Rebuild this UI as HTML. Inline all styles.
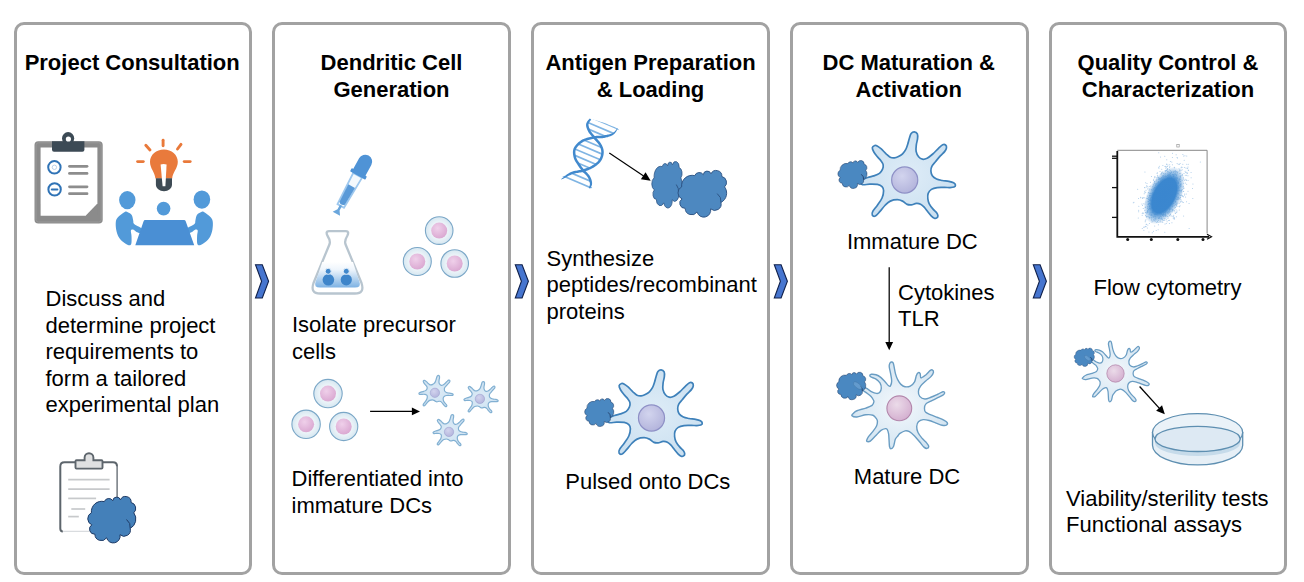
<!DOCTYPE html>
<html><head><meta charset="utf-8">
<style>
html,body{margin:0;padding:0;background:#fff;}
body{width:1304px;height:582px;position:relative;overflow:hidden;font-family:"Liberation Sans",sans-serif;color:#000;}
.box{position:absolute;top:22px;width:232.8px;height:546.8px;border:3px solid #a2a2a2;border-radius:10px;}
.t{position:absolute;font-size:22px;line-height:26.5px;white-space:nowrap;}
.b{font-weight:bold;text-align:center;}
.c{text-align:center;}
svg{position:absolute;left:0;top:0;overflow:visible;}
</style></head><body>
<div class="box" style="left:14px;width:231.8px"></div>
<div class="box" style="left:272.2px"></div>
<div class="box" style="left:531.1px"></div>
<div class="box" style="left:790.1px"></div>
<div class="box" style="left:1049.2px;width:231.7px"></div>
<svg width="1304" height="582" viewBox="0 0 1304 582"><defs>
<radialGradient id="gNucP" cx="0.4" cy="0.35" r="0.7"><stop offset="0" stop-color="#efd0ea"/><stop offset="1" stop-color="#d9a6d0"/></radialGradient>
<radialGradient id="gCell" cx="0.5" cy="0.5" r="0.5"><stop offset="0.55" stop-color="#eef5f9"/><stop offset="1" stop-color="#d6e7f1"/></radialGradient>
<radialGradient id="gNucL" cx="0.4" cy="0.35" r="0.7"><stop offset="0" stop-color="#d2d4ee"/><stop offset="1" stop-color="#b2b3db"/></radialGradient>
<radialGradient id="gNucM" cx="0.4" cy="0.35" r="0.7"><stop offset="0" stop-color="#ebdbe9"/><stop offset="1" stop-color="#d3aecf"/></radialGradient>
<radialGradient id="gDC" cx="0.5" cy="0.5" r="0.6"><stop offset="0" stop-color="#deecf7"/><stop offset="1" stop-color="#c9dff0"/></radialGradient>
<radialGradient id="gDCm" cx="0.5" cy="0.5" r="0.6"><stop offset="0" stop-color="#f3f8fc"/><stop offset="1" stop-color="#cfe2f0"/></radialGradient>
<linearGradient id="gFlask" x1="0" y1="0" x2="0" y2="1"><stop offset="0" stop-color="#ffffff"/><stop offset="0.3" stop-color="#eef5fc"/><stop offset="1" stop-color="#7db2e3"/></linearGradient>
<path id="immP" d="M-29.97,-34.45C-29.17,-34.74 -28.64,-34.68 -27.55,-34.11C-26.47,-33.54 -24.93,-32.34 -23.44,-31.03C-21.95,-29.71 -20.12,-27.59 -18.63,-26.22C-17.14,-24.84 -15.88,-23.46 -14.5,-22.77C-13.13,-22.09 -11.75,-21.97 -10.38,-22.09C-9,-22.2 -7.62,-22.77 -6.25,-23.46C-4.87,-24.15 -3.32,-25.07 -2.12,-26.22C-0.92,-27.36 0.11,-28.74 0.96,-30.34C1.82,-31.95 2.39,-33.89 3.02,-35.84C3.65,-37.79 4.17,-40.25 4.75,-42.02C5.32,-43.8 5.66,-45.46 6.46,-46.49C7.26,-47.52 8.53,-48.26 9.56,-48.21C10.59,-48.15 12.09,-47.29 12.64,-46.15C13.19,-45.01 13.03,-43.17 12.85,-41.34C12.68,-39.51 11.85,-37.29 11.62,-35.15C11.38,-33.02 11.04,-30.55 11.42,-28.55C11.8,-26.55 12.85,-24.46 13.9,-23.16C14.94,-21.87 16.26,-21.04 17.68,-20.8C19.1,-20.56 20.68,-20.88 22.41,-21.75C24.15,-22.61 26.18,-24.35 28.08,-26C29.97,-27.66 32.11,-30.14 33.77,-31.68C35.42,-33.22 36.83,-34.72 38.01,-35.27C39.19,-35.82 40.22,-35.51 40.85,-34.99C41.48,-34.47 41.95,-33.26 41.79,-32.15C41.64,-31.05 40.93,-29.71 39.9,-28.37C38.88,-27.03 37.14,-25.76 35.64,-24.11C34.15,-22.46 32.33,-20.18 30.91,-18.45C29.5,-16.72 27.93,-15.3 27.15,-13.72C26.36,-12.14 26.12,-10.57 26.2,-8.99C26.28,-7.41 26.66,-5.6 27.6,-4.26C28.55,-2.92 30.2,-1.75 31.86,-0.96C33.52,-0.18 35.49,0.06 37.54,0.46C39.58,0.85 42.25,1.01 44.14,1.4C46.03,1.8 47.77,2.19 48.87,2.82C49.98,3.45 50.69,4.48 50.77,5.19C50.85,5.9 50.29,6.69 49.35,7.08C48.4,7.47 46.65,7.5 45.09,7.55C43.53,7.61 42.07,7.42 39.97,7.42C37.87,7.43 34.7,7.25 32.5,7.57C30.29,7.89 28.22,8.4 26.72,9.36C25.22,10.33 24.08,11.78 23.47,13.34C22.87,14.91 22.94,17.01 23.12,18.76C23.3,20.51 23.71,22.13 24.55,23.82C25.39,25.5 26.95,27.43 28.16,28.87C29.36,30.32 30.94,31.34 31.78,32.48C32.62,33.62 33.15,34.82 33.21,35.73C33.27,36.63 32.74,37.47 32.14,37.9C31.54,38.32 30.51,38.56 29.61,38.25C28.71,37.95 27.8,37.17 26.72,36.08C25.64,35 24.32,33.25 23.12,31.75C21.91,30.24 20.7,28.33 19.49,27.06C18.29,25.8 17.21,24.78 15.89,24.18C14.57,23.57 13.13,23.32 11.57,23.44C10,23.56 8.03,24.74 6.51,24.89C4.99,25.05 3.89,25.02 2.45,24.39C1.01,23.76 -0.49,21.91 -2.12,21.13C-3.75,20.35 -5.29,19.71 -7.34,19.71C-9.39,19.71 -12.38,20.2 -14.42,21.13C-16.46,22.05 -17.84,23.52 -19.56,25.24C-21.28,26.95 -23.08,29.62 -24.71,31.42C-26.35,33.22 -28.06,35.45 -29.35,36.05C-30.64,36.65 -32.02,35.8 -32.45,35.02C-32.88,34.25 -32.78,33.05 -31.92,31.42C-31.07,29.79 -28.84,27.47 -27.29,25.24C-25.75,23 -23.69,20.43 -22.66,18.03C-21.63,15.62 -21.11,12.7 -21.11,10.82C-21.11,8.93 -21.63,7.77 -22.66,6.7C-23.69,5.64 -25.23,4.87 -27.29,4.44C-29.35,4.01 -32.52,4.09 -35.01,4.13C-37.5,4.16 -40.71,5.15 -42.22,4.65C-43.72,4.15 -44.9,2.34 -44.05,1.14C-43.19,-0.06 -39.27,-1.69 -37.08,-2.56C-34.89,-3.44 -32.87,-3.42 -30.9,-4.11C-28.92,-4.8 -26.68,-5.57 -25.22,-6.69C-23.76,-7.8 -22.75,-9.39 -22.14,-10.8C-21.52,-12.21 -21.28,-13.79 -21.53,-15.17C-21.79,-16.55 -22.65,-17.71 -23.65,-19.09C-24.66,-20.47 -26.33,-21.93 -27.55,-23.46C-28.78,-24.99 -30.19,-26.78 -31,-28.27C-31.8,-29.76 -32.54,-31.37 -32.37,-32.4C-32.19,-33.43 -30.77,-34.17 -29.97,-34.45Z"/>
<path id="matP" d="M-7.9,-46.3C-7.33,-46.39 -6.61,-46.14 -6.17,-45.36C-5.73,-44.57 -5.64,-43.43 -5.24,-41.6C-4.84,-39.77 -4.39,-36.55 -3.79,-34.39C-3.19,-32.23 -2.53,-30.37 -1.63,-28.63C-0.73,-26.88 0.39,-25.11 1.62,-23.93C2.84,-22.75 4.15,-21.83 5.71,-21.54C7.27,-21.26 9.38,-21.39 10.97,-22.21C12.56,-23.04 14.26,-24.79 15.26,-26.51C16.26,-28.22 16.4,-31.01 16.97,-32.51C17.55,-34.02 18.06,-35.17 18.7,-35.53C19.35,-35.89 20.36,-35.53 20.86,-34.67C21.36,-33.81 20.78,-30.59 21.71,-30.37C22.64,-30.16 24.94,-32.16 26.44,-33.38C27.94,-34.59 29.66,-36.81 30.73,-37.67C31.81,-38.53 32.31,-38.82 32.89,-38.53C33.46,-38.25 34.39,-37.1 34.18,-35.96C33.96,-34.81 32.89,-33.1 31.6,-31.66C30.31,-30.23 28.16,-28.93 26.44,-27.35C24.72,-25.78 22.5,-23.91 21.28,-22.2C20.06,-20.48 19.27,-18.77 19.13,-17.06C18.98,-15.34 19.34,-13.19 20.42,-11.9C21.49,-10.61 23.71,-9.45 25.58,-9.3C27.44,-9.16 29.45,-10.24 31.6,-11.03C33.75,-11.82 36.46,-13.11 38.47,-14.04C40.47,-14.97 42.48,-16.4 43.63,-16.61C44.77,-16.83 45.34,-15.9 45.34,-15.33C45.34,-14.75 44.92,-14.05 43.63,-13.19C42.34,-12.33 39.61,-11.17 37.6,-10.17C35.6,-9.16 33.46,-8.17 31.6,-7.17C29.74,-6.16 27.51,-5.38 26.44,-4.16C25.37,-2.94 25.15,-1.21 25.15,0.16C25.15,1.53 25.37,2.97 26.44,4.05C27.51,5.12 29.59,5.77 31.6,6.63C33.6,7.49 36.32,8.35 38.47,9.21C40.62,10.06 42.92,10.92 44.49,11.78C46.07,12.64 47.49,13.5 47.92,14.36C48.35,15.22 47.93,16.51 47.07,16.94C46.21,17.37 44.48,17.3 42.76,16.94C41.04,16.58 38.9,15.58 36.76,14.79C34.61,14 32.02,12.78 29.87,12.21C27.72,11.63 25.65,11.13 23.86,11.34C22.07,11.56 20.2,12.35 19.13,13.5C18.05,14.65 17.49,16.44 17.41,18.23C17.34,20.02 17.77,22.23 18.7,24.24C19.63,26.24 21.57,28.54 23,30.26C24.43,31.98 26.21,33.26 27.29,34.55C28.36,35.84 29.37,37.07 29.44,38C29.52,38.93 28.52,39.99 27.73,40.13C26.94,40.28 25.93,39.92 24.71,38.84C23.49,37.77 21.99,35.55 20.42,33.69C18.84,31.83 16.98,29.4 15.26,27.68C13.54,25.96 11.68,24.23 10.1,23.37C8.53,22.51 7.39,22.23 5.81,22.52C4.24,22.82 1.84,24.31 0.65,25.13C-0.53,25.96 -0.53,26.48 -1.31,27.47C-2.08,28.45 -3.24,29.26 -3.98,31.04C-4.73,32.83 -5.03,36.63 -5.78,38.19C-6.52,39.76 -7.79,40.43 -8.45,40.43C-9.12,40.43 -9.5,39.61 -9.79,38.19C-10.09,36.78 -10.08,34.02 -10.23,31.94C-10.38,29.86 -10.39,27.48 -10.69,25.69C-10.99,23.9 -11.51,22.11 -12.03,21.22C-12.55,20.32 -12.77,20.17 -13.81,20.32C-14.85,20.47 -16.64,20.92 -18.28,22.12C-19.92,23.31 -21.86,25.68 -23.65,27.47C-25.44,29.25 -27.59,31.85 -29,32.82C-30.42,33.79 -31.54,33.43 -32.14,33.28C-32.73,33.13 -32.8,32.76 -32.58,31.94C-32.35,31.12 -31.84,29.86 -30.8,28.37C-29.76,26.88 -27.67,24.78 -26.33,23C-24.99,21.21 -23.5,19.28 -22.75,17.64C-22.01,16.01 -21.85,14.36 -21.85,13.17C-21.85,11.98 -22.01,11.54 -22.75,10.49C-23.5,9.45 -24.54,7.59 -26.33,6.92C-28.11,6.25 -30.8,6.17 -33.47,6.46C-36.15,6.76 -40.09,8.55 -42.4,8.7C-44.71,8.85 -46.74,7.96 -47.33,7.36C-47.93,6.77 -46.8,5.94 -45.98,5.12C-45.16,4.31 -44.49,3.34 -42.4,2.45C-40.32,1.56 -36,0.66 -33.47,-0.23C-30.94,-1.12 -28.56,-1.86 -27.22,-2.91C-25.88,-3.95 -25.65,-5.58 -25.43,-6.48C-25.21,-7.37 -25.42,-7.37 -25.89,-8.27C-26.35,-9.18 -27.03,-10.68 -28.24,-11.91C-29.44,-13.15 -31.77,-14.66 -33.13,-15.67C-34.49,-16.67 -36.07,-17.14 -36.4,-17.95C-36.72,-18.77 -35.91,-20.35 -35.09,-20.56C-34.27,-20.78 -32.69,-19.9 -31.5,-19.26C-30.31,-18.62 -29.39,-17.44 -27.96,-16.71C-26.53,-15.99 -24.3,-15.07 -22.91,-14.92C-21.53,-14.76 -20.49,-14.94 -19.67,-15.78C-18.85,-16.62 -18.06,-18.36 -18,-19.96C-17.94,-21.56 -18.37,-23.82 -19.31,-25.38C-20.25,-26.94 -22.19,-28.39 -23.63,-29.35C-25.07,-30.31 -26.97,-30.6 -27.96,-31.14C-28.94,-31.68 -29.54,-32.11 -29.54,-32.59C-29.54,-33.07 -29,-33.87 -27.96,-34.03C-26.91,-34.18 -24.84,-34.04 -23.27,-33.52C-21.71,-33.01 -20.09,-32.11 -18.59,-30.93C-17.09,-29.75 -15.57,-27.86 -14.25,-26.46C-12.92,-25.05 -11.54,-23.15 -10.64,-22.49C-9.74,-21.83 -9.35,-21.71 -8.85,-22.49C-8.34,-23.27 -7.64,-25.19 -7.61,-27.17C-7.57,-29.16 -8.21,-31.98 -8.62,-34.39C-9.03,-36.79 -9.91,-39.86 -10.07,-41.6C-10.23,-43.35 -9.93,-44.07 -9.56,-44.85C-9.2,-45.63 -8.47,-46.22 -7.9,-46.3Z"/>
<path id="cloudP" d="M104.3,501.6A4.77,4.77 0 0 1 112.8,500.7A3.9,3.9 0 0 1 120.4,499.8A5.6,5.6 0 0 1 131.1,502.5A6.03,6.03 0 0 1 133.8,512.8A10.54,10.54 0 0 1 130.2,528.4A6.27,6.27 0 0 1 120,534.7A6.88,6.88 0 0 1 106.6,537.8A6.4,6.4 0 0 1 94.9,534.2A5.14,5.14 0 0 1 91.8,524.8A6.61,6.61 0 0 1 91.4,512.8A10.43,10.43 0 0 1 104.3,501.6Z"/>
</defs><g fill="#4675cf" stroke="#10204a" stroke-width="1.1"><polygon points="255.5,264.7 262.3,264.7 268.6,281.3 262.3,298 255.5,298 261.6,281.3"/><polygon points="515.3,264.7 522.1,264.7 528.4,281.3 522.1,298 515.3,298 521.4,281.3"/><polygon points="774.3,264.7 781.1,264.7 787.4,281.3 781.1,298 774.3,298 780.4,281.3"/><polygon points="1033.3,264.7 1040.1,264.7 1046.4,281.3 1040.1,298 1033.3,298 1039.4,281.3"/></g><circle cx="439.2" cy="230.6" r="13.8" fill="url(#gCell)" stroke="#7ba7c7" stroke-width="1.1"/><circle cx="439.2" cy="230.6" r="8" fill="url(#gNucP)"/><circle cx="417.3" cy="261.5" r="14" fill="url(#gCell)" stroke="#7ba7c7" stroke-width="1.1"/><circle cx="417.3" cy="261.5" r="8" fill="url(#gNucP)"/><circle cx="454.7" cy="263.5" r="13.8" fill="url(#gCell)" stroke="#7ba7c7" stroke-width="1.1"/><circle cx="454.7" cy="263.5" r="8" fill="url(#gNucP)"/><circle cx="328" cy="393.6" r="14.2" fill="url(#gCell)" stroke="#7ba7c7" stroke-width="1.1"/><circle cx="328" cy="393.6" r="8" fill="url(#gNucP)"/><circle cx="306.1" cy="424.3" r="14.2" fill="url(#gCell)" stroke="#7ba7c7" stroke-width="1.1"/><circle cx="306.1" cy="424.3" r="8" fill="url(#gNucP)"/><circle cx="343.7" cy="426.5" r="14.1" fill="url(#gCell)" stroke="#7ba7c7" stroke-width="1.1"/><circle cx="343.7" cy="426.5" r="8" fill="url(#gNucP)"/><line x1="370.1" y1="411.4" x2="412.4" y2="411.4" stroke="#000" stroke-width="1.25"/><polygon points="420,411.4 411.9,415.3 411.9,407.5" fill="#000"/><g transform="translate(434.9,392.8) scale(0.36)"><use href="#immP" fill="url(#gDC)" stroke="#82b0d2" stroke-width="3.3"/><circle r="13.05" fill="url(#gNucL)" stroke="#8e90c6" stroke-width="1.2"/></g><g transform="translate(479.9,398.9) scale(0.36)"><use href="#immP" fill="url(#gDC)" stroke="#82b0d2" stroke-width="3.3"/><circle r="13.05" fill="url(#gNucL)" stroke="#8e90c6" stroke-width="1.2"/></g><g transform="translate(449,431.9) scale(0.36)"><use href="#immP" fill="url(#gDC)" stroke="#82b0d2" stroke-width="3.3"/><circle r="13.05" fill="url(#gNucL)" stroke="#8e90c6" stroke-width="1.2"/></g><line x1="609.3" y1="153.1" x2="643.63" y2="175.99" stroke="#000" stroke-width="1.15"/><polygon points="650.7,180.7 640.88,179.2 645.54,172.21" fill="#000"/><g transform="translate(596.32,-336.04) scale(0.6320,1.0021)"><use href="#cloudP" fill="#4d88c0" stroke="#2a5080" stroke-width="0.9" vector-effect="non-scaling-stroke"/><path d="M126.5,519.5 Q131,523 130.2,528.4" fill="none" stroke="#2a5080" stroke-width="0.9" vector-effect="non-scaling-stroke"/></g><g transform="translate(589.16,-328.09) scale(1.0120,1.0042)"><use href="#cloudP" fill="#4d88c0" stroke="#2a5080" stroke-width="0.9" vector-effect="non-scaling-stroke"/><path d="M126.5,519.5 Q131,523 130.2,528.4" fill="none" stroke="#2a5080" stroke-width="0.9" vector-effect="non-scaling-stroke"/></g><g transform="translate(651.5,418) scale(1.0)"><use href="#immP" fill="url(#gDC)" stroke="#3e81ba" stroke-width="1.7"/><circle r="13.05" fill="url(#gNucL)" stroke="#8e90c6" stroke-width="1.2"/></g><g transform="translate(531.48,99.56) scale(0.6060,0.6021)"><use href="#cloudP" fill="#4a88c1" stroke="#223f6a" stroke-width="0.9" vector-effect="non-scaling-stroke"/><path d="M126.5,519.5 Q131,523 130.2,528.4" fill="none" stroke="#223f6a" stroke-width="0.9" vector-effect="non-scaling-stroke"/></g><g transform="translate(904.7,180) scale(1.0)"><use href="#immP" fill="url(#gDC)" stroke="#3e81ba" stroke-width="1.7"/><circle r="13.05" fill="url(#gNucL)" stroke="#8e90c6" stroke-width="1.2"/></g><g transform="translate(784.68,-138.44) scale(0.6060,0.6021)"><use href="#cloudP" fill="#4a88c1" stroke="#223f6a" stroke-width="0.9" vector-effect="non-scaling-stroke"/><path d="M126.5,519.5 Q131,523 130.2,528.4" fill="none" stroke="#223f6a" stroke-width="0.9" vector-effect="non-scaling-stroke"/></g><line x1="889.2" y1="267.2" x2="889.2" y2="342.6" stroke="#000" stroke-width="1.25"/><polygon points="889.2,350.2 885.3,342.1 893.1,342.1" fill="#000"/><g transform="translate(899.3,408.3) scale(1.0)"><use href="#matP" fill="url(#gDCm)" stroke="#6a9dc3" stroke-width="1.4"/><circle r="12.4" fill="url(#gNucM)" stroke="#b286ab" stroke-width="1.1"/></g><g transform="translate(783.2,78.48) scale(0.6080,0.5916)"><use href="#cloudP" fill="#4a88c1" stroke="#223f6a" stroke-width="0.9" vector-effect="non-scaling-stroke"/><path d="M126.5,519.5 Q131,523 130.2,528.4" fill="none" stroke="#223f6a" stroke-width="0.9" vector-effect="non-scaling-stroke"/></g><ellipse cx="857.6" cy="385.6" rx="5" ry="2.3" transform="rotate(38 857.6 385.6)" fill="#78abd8" fill-opacity="0.55" stroke="#3d6f9f" stroke-width="0.6" stroke-opacity="0.6"/><g transform="translate(1115.5,373.5) scale(0.7)"><use href="#matP" fill="url(#gDCm)" stroke="#6a9dc3" stroke-width="1.8"/><circle r="12.4" fill="url(#gNucM)" stroke="#b286ab" stroke-width="1.1"/></g><g transform="translate(1037.09,151.59) scale(0.4220,0.3958)"><use href="#cloudP" fill="#4a88c1" stroke="#223f6a" stroke-width="0.9" vector-effect="non-scaling-stroke"/><path d="M126.5,519.5 Q131,523 130.2,528.4" fill="none" stroke="#223f6a" stroke-width="0.9" vector-effect="non-scaling-stroke"/></g><ellipse cx="1087.4" cy="358.1" rx="3.6" ry="1.7" transform="rotate(40 1087.4 358.1)" fill="#78abd8" fill-opacity="0.55" stroke="#3d6f9f" stroke-width="0.5" stroke-opacity="0.6"/><line x1="1139.6" y1="386.5" x2="1159.43" y2="408.37" stroke="#000" stroke-width="1.3"/><polygon points="1164.8,414.3 1156.13,410.69 1162.05,405.32" fill="#000"/><rect x="34.5" y="141.3" width="68.2" height="82.2" rx="3.8" fill="#8b8b8b"/><rect x="36" y="142.8" width="65.2" height="79.2" rx="2.5" fill="none" stroke="#999" stroke-width="1"/><path d="M40.6,147.4 L97.4,147.4 L97.4,203.8 L85.8,215.8 L40.6,215.8 Z" fill="#fff"/><path d="M97.4,203.8 L85.8,215.8 L97.4,215.8 Z" fill="#8b8b8b"/><path d="M52,141.2 L84.4,141.2 L84.4,149.7 Q84.4,151.7 82.4,151.7 L54,151.7 Q52,151.7 52,149.7 Z" fill="#3c4a55"/><circle cx="68.1" cy="138.2" r="6.1" fill="#3c4a55"/><circle cx="68.4" cy="139" r="2.6" fill="#fff"/><g fill="none" stroke="#2f73b6" stroke-width="2"><circle cx="54.4" cy="167.3" r="6.2"/><circle cx="54.6" cy="189.4" r="6.2"/></g><line x1="51.8" y1="189.4" x2="57.4" y2="189.4" stroke="#2f73b6" stroke-width="2" stroke-linecap="round"/><circle cx="54.4" cy="167.3" r="2.2" fill="none" stroke="#a9c6e4" stroke-width="0.8"/><g stroke="#8d8d8d" stroke-width="2.8" stroke-linecap="round"><line x1="69.5" y1="166.3" x2="87" y2="166.3"/><line x1="69.5" y1="173.4" x2="87" y2="173.4"/><line x1="69.5" y1="186.8" x2="87" y2="186.8"/><line x1="69.5" y1="193.7" x2="87" y2="193.7"/></g><g stroke="#e9793a" stroke-width="2.9" stroke-linecap="round"><line x1="163.1" y1="140.2" x2="163.1" y2="145.8"/><line x1="145.8" y1="145.3" x2="150" y2="150"/><line x1="181" y1="144.3" x2="177.5" y2="149"/><line x1="137.6" y1="161.6" x2="143.3" y2="161.6"/><line x1="184.2" y1="161.6" x2="190.2" y2="161.6"/></g><path d="M155.4,178.5 C155,172.5 150,168.5 150,161.8 C150,154.6 156.3,149.4 163.9,149.4 C171.5,149.4 177.8,154.6 177.8,161.8 C177.8,168.5 172.6,172.5 172.2,178.5 Z" fill="#e97a3c"/><path d="M155.9,178.2 L172,178.2 L172,184.6 C172,188.5 168.5,191.3 164,191.3 C159.5,191.3 155.9,188.5 155.9,184.6 Z" fill="#3e4b55"/><path d="M160.6,164.6 Q163.5,163.6 166.6,164.6 L165.4,186.2 L162.6,186.2 Z" fill="#fff"/><g fill="#529ad9"><path d="M200.8,212.3C199.63,212.8 197.8,213.63 196.9,215C196,216.37 195.72,219.13 195.4,220.5C195.08,221.87 195.47,222.42 195,223.2C194.53,223.98 193.97,224.3 192.6,225.2C191.23,226.1 187.6,227.33 186.8,228.6C186,229.87 186.92,232.23 187.8,232.8C188.68,233.37 190.83,232.53 192.1,232C193.37,231.47 194.47,229.85 195.4,229.6C196.33,229.35 197.42,229.43 197.7,230.5C197.98,231.57 197.17,233.8 197.1,236C197.03,238.2 196.82,242.17 197.3,243.7C197.78,245.23 198.65,245.47 200,245.2C201.35,244.93 203.72,243.52 205.4,242.1C207.08,240.68 208.93,238.75 210.1,236.7C211.27,234.65 211.95,232.25 212.4,229.8C212.85,227.35 213.05,224.07 212.8,222C212.55,219.93 212.38,219.07 210.9,217.4C209.42,215.73 205.58,212.85 203.9,212C202.22,211.15 201.97,211.8 200.8,212.3Z"/><path d="M124.7,212C123.02,212.85 119.18,215.73 117.7,217.4C116.22,219.07 116.05,219.93 115.8,222C115.55,224.07 115.75,227.35 116.2,229.8C116.65,232.25 117.33,234.65 118.5,236.7C119.67,238.75 121.52,240.68 123.2,242.1C124.88,243.52 127.25,244.93 128.6,245.2C129.95,245.47 130.82,245.23 131.3,243.7C131.78,242.17 131.57,238.2 131.5,236C131.43,233.8 130.62,231.57 130.9,230.5C131.18,229.43 132.27,229.35 133.2,229.6C134.13,229.85 135.23,231.47 136.5,232C137.77,232.53 139.92,233.37 140.8,232.8C141.68,232.23 142.6,229.87 141.8,228.6C141,227.33 137.37,226.1 136,225.2C134.63,224.3 134.07,223.98 133.6,223.2C133.13,222.42 133.52,221.87 133.2,220.5C132.88,219.13 132.6,216.37 131.7,215C130.8,213.63 128.97,212.8 127.8,212.3C126.63,211.8 126.38,211.15 124.7,212Z"/><ellipse cx="127.3" cy="200.1" rx="8.2" ry="9.1"/><ellipse cx="201.9" cy="199.6" rx="8.3" ry="9.2"/><circle cx="163.6" cy="208.6" r="6.8"/><path d="M145,219.9 L184,219.9 Q185.3,219.9 185.7,221.2 L194.2,245.2 L135.3,245.2 L143.6,221.2 Q144,219.9 145,219.9 Z" fill="#4a8fd4"/></g><rect x="60.3" y="462.2" width="56.6" height="69.3" rx="4.2" fill="#fff"/><line x1="62" y1="531.4" x2="112" y2="531.4" stroke="#d9dcdf" stroke-width="1.2"/><path d="M62.8,531.5 Q60.3,531.5 60.3,528.5 L60.3,466.4 Q60.3,462.2 64.5,462.2 L113,462.2 Q117,462.2 117,466.2" fill="none" stroke="#5d656c" stroke-width="2"/><line x1="117.1" y1="466" x2="117.1" y2="500" stroke="#5d656c" stroke-width="1.3"/><path d="M76.5,460.2 L84.6,460.2 L84.6,457.6 A4.4,4.4 0 0 1 93.4,457.6 L93.4,460.2 L101.5,460.2 Q102.5,460.2 102.5,461.2 L102.5,467.6 Q102.5,468.6 101.5,468.6 L76.5,468.6 Q75.5,468.6 75.5,467.6 L75.5,461.2 Q75.5,460.2 76.5,460.2 Z" fill="#dfe0e1" stroke="#5d656c" stroke-width="1.9"/><g stroke="#c7c9cb" stroke-width="1.7"><line x1="68.2" y1="479.7" x2="109.6" y2="479.7"/><line x1="68.2" y1="489.1" x2="109.6" y2="489.1"/><line x1="68.2" y1="498.4" x2="96.1" y2="498.4"/><line x1="71.3" y1="509" x2="85.2" y2="509"/><line x1="68.2" y1="516.6" x2="78.8" y2="516.6"/></g><g transform="translate(0,0) scale(1.0000,1.0000)"><use href="#cloudP" fill="#4480b9" stroke="#1f3b66" stroke-width="1" vector-effect="non-scaling-stroke"/><path d="M126.5,519.5 Q131,523 130.2,528.4" fill="none" stroke="#1f3b66" stroke-width="1" vector-effect="non-scaling-stroke"/></g><g transform="translate(368.6,155.6) rotate(29)"><path d="M-5,22.5 L5,22.5 L3.7,57.5 L-3.7,57.5 Z" fill="#f4f9fd" stroke="#9ec8ee" stroke-width="1.8"/><path d="M-3.8,35 L3.8,35 L3.1,54.5 Q0,57.5 -3.1,54.5 Z" fill="#5a9ad8"/><path d="M-1.2,57 L1.2,57 L1.2,62 L4.2,66.5 L-4.2,66.5 L-1.2,62 Z" fill="#6aa6dc"/><path d="M-7,20 L-7,7 A7,7 0 0 1 7,7 L7,20 Z" fill="#4f93d6"/><rect x="-8.7" y="19" width="17.4" height="3.8" rx="1" fill="#4f93d6"/></g><path d="M313.5,283 L329.6,244 Q330.6,240.5 327.6,236 Q325.2,231.2 328.8,231.2 L346,231.2 Q349.6,231.2 347.2,236 Q344.4,240.5 345.4,244 L361.5,283 Q365,293.5 355,293.5 L320,293.5 Q310,293.5 313.5,283 Z" fill="#fff" stroke="#b8c5cf" stroke-width="2.3"/><path d="M322.3,262 L353,262 L359.5,282 Q361.5,287.5 355,287.5 L320,287.5 Q313.5,287.5 315.5,282 Z" fill="url(#gFlask)"/><g fill="#3e85ca"><circle cx="328.4" cy="279.8" r="5.8"/><circle cx="346.3" cy="279.8" r="5.6"/></g><g fill="#4188cc" stroke="#e3effa" stroke-width="1"><circle cx="328.2" cy="271.3" r="3"/><circle cx="346.3" cy="271.3" r="3"/></g><clipPath id="cpTop"><path d="M590.5,118.9C585.45,118.22 587.48,122.33 587.3,124.4C587.12,126.47 588.25,129.13 589.4,131.3C590.55,133.47 593.4,136.38 594.2,137.4C595,138.42 592.72,137.5 594.2,137.4C595.68,137.3 600,137.37 603.1,136.8C606.2,136.23 610.38,135.38 612.8,134C615.22,132.62 621.32,131.02 617.6,128.5C613.88,125.98 595.55,119.58 590.5,118.9Z"/></clipPath><clipPath id="cpMid"><path d="M594.2,137.4C595.23,138.67 599.02,142.47 600.4,145C601.78,147.53 602.62,149.97 602.5,152.6C602.38,155.23 601.43,158.4 599.7,160.8C597.97,163.2 594.85,165.38 592.1,167C589.35,168.62 584.68,169.92 583.2,170.5C581.72,171.08 583.88,171.42 583.2,170.5C582.52,169.58 580.48,167.18 579.1,165C577.72,162.82 575.6,160.15 574.9,157.4C574.2,154.65 573.63,151.25 574.9,148.5C576.17,145.75 579.28,142.75 582.5,140.9C585.72,139.05 592.25,137.98 594.2,137.4C596.15,136.82 593.17,136.13 594.2,137.4Z"/></clipPath><clipPath id="cpBot"><path d="M583.2,170.5C581.25,170.95 575.17,171.72 571.5,173.2C567.83,174.68 558.22,176.88 561.2,179.4C564.18,181.92 584.43,187.62 589.4,188.3C594.37,188.98 591.12,185.45 591,183.5C590.88,181.55 590,178.77 588.7,176.6C587.4,174.43 584.12,171.52 583.2,170.5C582.28,169.48 585.15,170.05 583.2,170.5Z"/></clipPath><g clip-path="url(#cpTop)" stroke="#7fb4e3" stroke-width="1.7"><line x1="550" y1="-60" x2="630" y2="-26"/><line x1="550" y1="-53.6" x2="630" y2="-19.6"/><line x1="550" y1="-47.2" x2="630" y2="-13.2"/><line x1="550" y1="-40.8" x2="630" y2="-6.8"/><line x1="550" y1="-34.4" x2="630" y2="-0.4"/><line x1="550" y1="-28" x2="630" y2="6"/><line x1="550" y1="-21.6" x2="630" y2="12.4"/><line x1="550" y1="-15.2" x2="630" y2="18.8"/><line x1="550" y1="-8.8" x2="630" y2="25.2"/><line x1="550" y1="-2.4" x2="630" y2="31.6"/><line x1="550" y1="4" x2="630" y2="38"/><line x1="550" y1="10.4" x2="630" y2="44.4"/><line x1="550" y1="16.8" x2="630" y2="50.8"/><line x1="550" y1="23.2" x2="630" y2="57.2"/><line x1="550" y1="29.6" x2="630" y2="63.6"/><line x1="550" y1="36" x2="630" y2="70"/><line x1="550" y1="42.4" x2="630" y2="76.4"/><line x1="550" y1="48.8" x2="630" y2="82.8"/><line x1="550" y1="55.2" x2="630" y2="89.2"/><line x1="550" y1="61.6" x2="630" y2="95.6"/><line x1="550" y1="68" x2="630" y2="102"/><line x1="550" y1="74.4" x2="630" y2="108.4"/><line x1="550" y1="80.8" x2="630" y2="114.8"/><line x1="550" y1="87.2" x2="630" y2="121.2"/><line x1="550" y1="93.6" x2="630" y2="127.6"/><line x1="550" y1="100" x2="630" y2="134"/><line x1="550" y1="106.4" x2="630" y2="140.4"/><line x1="550" y1="112.8" x2="630" y2="146.8"/><line x1="550" y1="119.2" x2="630" y2="153.2"/><line x1="550" y1="125.6" x2="630" y2="159.6"/><line x1="550" y1="132" x2="630" y2="166"/><line x1="550" y1="138.4" x2="630" y2="172.4"/><line x1="550" y1="144.8" x2="630" y2="178.8"/><line x1="550" y1="151.2" x2="630" y2="185.2"/><line x1="550" y1="157.6" x2="630" y2="191.6"/><line x1="550" y1="164" x2="630" y2="198"/><line x1="550" y1="170.4" x2="630" y2="204.4"/><line x1="550" y1="176.8" x2="630" y2="210.8"/><line x1="550" y1="183.2" x2="630" y2="217.2"/><line x1="550" y1="189.6" x2="630" y2="223.6"/><line x1="550" y1="196" x2="630" y2="230"/><line x1="550" y1="202.4" x2="630" y2="236.4"/><line x1="550" y1="208.8" x2="630" y2="242.8"/><line x1="550" y1="215.2" x2="630" y2="249.2"/><line x1="550" y1="221.6" x2="630" y2="255.6"/><line x1="550" y1="228" x2="630" y2="262"/><line x1="550" y1="234.4" x2="630" y2="268.4"/><line x1="550" y1="240.8" x2="630" y2="274.8"/><line x1="550" y1="247.2" x2="630" y2="281.2"/><line x1="550" y1="253.6" x2="630" y2="287.6"/></g><g clip-path="url(#cpMid)" stroke="#7fb4e3" stroke-width="1.7"><line x1="550" y1="-60" x2="630" y2="-26"/><line x1="550" y1="-53.6" x2="630" y2="-19.6"/><line x1="550" y1="-47.2" x2="630" y2="-13.2"/><line x1="550" y1="-40.8" x2="630" y2="-6.8"/><line x1="550" y1="-34.4" x2="630" y2="-0.4"/><line x1="550" y1="-28" x2="630" y2="6"/><line x1="550" y1="-21.6" x2="630" y2="12.4"/><line x1="550" y1="-15.2" x2="630" y2="18.8"/><line x1="550" y1="-8.8" x2="630" y2="25.2"/><line x1="550" y1="-2.4" x2="630" y2="31.6"/><line x1="550" y1="4" x2="630" y2="38"/><line x1="550" y1="10.4" x2="630" y2="44.4"/><line x1="550" y1="16.8" x2="630" y2="50.8"/><line x1="550" y1="23.2" x2="630" y2="57.2"/><line x1="550" y1="29.6" x2="630" y2="63.6"/><line x1="550" y1="36" x2="630" y2="70"/><line x1="550" y1="42.4" x2="630" y2="76.4"/><line x1="550" y1="48.8" x2="630" y2="82.8"/><line x1="550" y1="55.2" x2="630" y2="89.2"/><line x1="550" y1="61.6" x2="630" y2="95.6"/><line x1="550" y1="68" x2="630" y2="102"/><line x1="550" y1="74.4" x2="630" y2="108.4"/><line x1="550" y1="80.8" x2="630" y2="114.8"/><line x1="550" y1="87.2" x2="630" y2="121.2"/><line x1="550" y1="93.6" x2="630" y2="127.6"/><line x1="550" y1="100" x2="630" y2="134"/><line x1="550" y1="106.4" x2="630" y2="140.4"/><line x1="550" y1="112.8" x2="630" y2="146.8"/><line x1="550" y1="119.2" x2="630" y2="153.2"/><line x1="550" y1="125.6" x2="630" y2="159.6"/><line x1="550" y1="132" x2="630" y2="166"/><line x1="550" y1="138.4" x2="630" y2="172.4"/><line x1="550" y1="144.8" x2="630" y2="178.8"/><line x1="550" y1="151.2" x2="630" y2="185.2"/><line x1="550" y1="157.6" x2="630" y2="191.6"/><line x1="550" y1="164" x2="630" y2="198"/><line x1="550" y1="170.4" x2="630" y2="204.4"/><line x1="550" y1="176.8" x2="630" y2="210.8"/><line x1="550" y1="183.2" x2="630" y2="217.2"/><line x1="550" y1="189.6" x2="630" y2="223.6"/><line x1="550" y1="196" x2="630" y2="230"/><line x1="550" y1="202.4" x2="630" y2="236.4"/><line x1="550" y1="208.8" x2="630" y2="242.8"/><line x1="550" y1="215.2" x2="630" y2="249.2"/><line x1="550" y1="221.6" x2="630" y2="255.6"/><line x1="550" y1="228" x2="630" y2="262"/><line x1="550" y1="234.4" x2="630" y2="268.4"/><line x1="550" y1="240.8" x2="630" y2="274.8"/><line x1="550" y1="247.2" x2="630" y2="281.2"/><line x1="550" y1="253.6" x2="630" y2="287.6"/></g><g clip-path="url(#cpBot)" stroke="#7fb4e3" stroke-width="1.7"><line x1="550" y1="-60" x2="630" y2="-26"/><line x1="550" y1="-53.6" x2="630" y2="-19.6"/><line x1="550" y1="-47.2" x2="630" y2="-13.2"/><line x1="550" y1="-40.8" x2="630" y2="-6.8"/><line x1="550" y1="-34.4" x2="630" y2="-0.4"/><line x1="550" y1="-28" x2="630" y2="6"/><line x1="550" y1="-21.6" x2="630" y2="12.4"/><line x1="550" y1="-15.2" x2="630" y2="18.8"/><line x1="550" y1="-8.8" x2="630" y2="25.2"/><line x1="550" y1="-2.4" x2="630" y2="31.6"/><line x1="550" y1="4" x2="630" y2="38"/><line x1="550" y1="10.4" x2="630" y2="44.4"/><line x1="550" y1="16.8" x2="630" y2="50.8"/><line x1="550" y1="23.2" x2="630" y2="57.2"/><line x1="550" y1="29.6" x2="630" y2="63.6"/><line x1="550" y1="36" x2="630" y2="70"/><line x1="550" y1="42.4" x2="630" y2="76.4"/><line x1="550" y1="48.8" x2="630" y2="82.8"/><line x1="550" y1="55.2" x2="630" y2="89.2"/><line x1="550" y1="61.6" x2="630" y2="95.6"/><line x1="550" y1="68" x2="630" y2="102"/><line x1="550" y1="74.4" x2="630" y2="108.4"/><line x1="550" y1="80.8" x2="630" y2="114.8"/><line x1="550" y1="87.2" x2="630" y2="121.2"/><line x1="550" y1="93.6" x2="630" y2="127.6"/><line x1="550" y1="100" x2="630" y2="134"/><line x1="550" y1="106.4" x2="630" y2="140.4"/><line x1="550" y1="112.8" x2="630" y2="146.8"/><line x1="550" y1="119.2" x2="630" y2="153.2"/><line x1="550" y1="125.6" x2="630" y2="159.6"/><line x1="550" y1="132" x2="630" y2="166"/><line x1="550" y1="138.4" x2="630" y2="172.4"/><line x1="550" y1="144.8" x2="630" y2="178.8"/><line x1="550" y1="151.2" x2="630" y2="185.2"/><line x1="550" y1="157.6" x2="630" y2="191.6"/><line x1="550" y1="164" x2="630" y2="198"/><line x1="550" y1="170.4" x2="630" y2="204.4"/><line x1="550" y1="176.8" x2="630" y2="210.8"/><line x1="550" y1="183.2" x2="630" y2="217.2"/><line x1="550" y1="189.6" x2="630" y2="223.6"/><line x1="550" y1="196" x2="630" y2="230"/><line x1="550" y1="202.4" x2="630" y2="236.4"/><line x1="550" y1="208.8" x2="630" y2="242.8"/><line x1="550" y1="215.2" x2="630" y2="249.2"/><line x1="550" y1="221.6" x2="630" y2="255.6"/><line x1="550" y1="228" x2="630" y2="262"/><line x1="550" y1="234.4" x2="630" y2="268.4"/><line x1="550" y1="240.8" x2="630" y2="274.8"/><line x1="550" y1="247.2" x2="630" y2="281.2"/><line x1="550" y1="253.6" x2="630" y2="287.6"/></g><g fill="#4189cd"><path d="M589.77,118.42 L589.58,118.63 L589.34,118.91 L589.03,119.25 L588.67,119.66 L588.29,120.11 L587.89,120.6 L587.5,121.13 L587.12,121.7 L586.77,122.29 L586.47,122.92 L586.23,123.59 L586.09,124.27 L586.04,124.94 L586.07,125.6 L586.16,126.26 L586.29,126.91 L586.46,127.56 L586.67,128.21 L586.9,128.85 L587.15,129.49 L587.42,130.11 L587.71,130.72 L588,131.31 L588.3,131.9 L588.63,132.47 L588.99,133.04 L589.37,133.58 L589.76,134.11 L590.17,134.62 L590.59,135.12 L591.02,135.61 L591.46,136.11 L591.9,136.61 L592.34,137.12 L592.78,137.64 L593.24,138.19 L593.73,138.79 L594.26,139.41 L594.82,140.03 L595.39,140.66 L595.96,141.3 L596.53,141.93 L597.09,142.57 L597.62,143.2 L598.11,143.83 L598.57,144.44 L598.97,145.03 L599.31,145.61 L599.62,146.2 L599.91,146.79 L600.18,147.38 L600.42,147.96 L600.63,148.54 L600.81,149.11 L600.96,149.68 L601.09,150.25 L601.18,150.82 L601.23,151.39 L601.26,151.96 L601.25,152.55 L601.21,153.15 L601.13,153.78 L601.03,154.42 L600.89,155.08 L600.72,155.74 L600.52,156.4 L600.29,157.05 L600.02,157.69 L599.73,158.32 L599.41,158.93 L599.06,159.51 L598.69,160.07 L598.27,160.6 L597.81,161.13 L597.29,161.66 L596.73,162.19 L596.14,162.7 L595.51,163.21 L594.86,163.7 L594.19,164.18 L593.51,164.65 L592.83,165.09 L592.14,165.52 L591.47,165.92 L590.82,166.29 L590.16,166.63 L589.5,166.95 L588.84,167.25 L588.16,167.53 L587.47,167.8 L586.76,168.06 L586.03,168.31 L585.27,168.55 L584.49,168.8 L583.68,169.05 L582.85,169.3 L582.01,169.53 L581.13,169.73 L580.2,169.92 L579.24,170.1 L578.24,170.27 L577.22,170.45 L576.18,170.64 L575.14,170.85 L574.1,171.08 L573.06,171.35 L572.03,171.67 L571.03,172.04 L570.03,172.48 L569.04,173.06 L568.05,173.7 L567.06,174.37 L566.1,175.07 L565.17,175.78 L564.29,176.47 L563.47,177.14 L562.72,177.77 L562.07,178.33 L561.52,178.82 L561.1,179.24 L561.3,179.56 L561.87,179.36 L562.54,179.04 L563.31,178.64 L564.17,178.19 L565.09,177.69 L566.07,177.16 L567.08,176.63 L568.1,176.1 L569.13,175.6 L570.13,175.14 L571.09,174.74 L571.97,174.36 L572.84,174.04 L573.74,173.76 L574.69,173.51 L575.66,173.29 L576.65,173.1 L577.66,172.91 L578.67,172.74 L579.68,172.56 L580.68,172.38 L581.66,172.18 L582.62,171.95 L583.55,171.7 L584.41,171.44 L585.23,171.19 L586.03,170.93 L586.82,170.68 L587.59,170.41 L588.35,170.14 L589.09,169.85 L589.83,169.54 L590.56,169.22 L591.29,168.87 L592.01,168.49 L592.73,168.08 L593.45,167.65 L594.17,167.2 L594.9,166.73 L595.62,166.23 L596.34,165.72 L597.05,165.18 L597.74,164.62 L598.41,164.04 L599.04,163.45 L599.64,162.83 L600.2,162.19 L600.71,161.53 L601.17,160.86 L601.59,160.15 L601.97,159.43 L602.32,158.69 L602.62,157.94 L602.89,157.18 L603.13,156.41 L603.32,155.65 L603.49,154.89 L603.61,154.13 L603.7,153.39 L603.75,152.65 L603.76,151.93 L603.73,151.21 L603.66,150.5 L603.54,149.79 L603.4,149.1 L603.21,148.41 L603,147.73 L602.75,147.06 L602.48,146.39 L602.17,145.72 L601.85,145.06 L601.49,144.39 L601.08,143.69 L600.61,142.99 L600.1,142.3 L599.55,141.62 L598.99,140.94 L598.41,140.28 L597.82,139.62 L597.24,138.98 L596.68,138.36 L596.14,137.75 L595.63,137.17 L595.16,136.61 L594.7,136.04 L594.24,135.49 L593.78,134.97 L593.34,134.46 L592.91,133.97 L592.5,133.5 L592.1,133.03 L591.73,132.57 L591.39,132.11 L591.07,131.65 L590.77,131.19 L590.5,130.7 L590.23,130.18 L589.96,129.64 L589.7,129.08 L589.46,128.53 L589.23,127.97 L589.03,127.41 L588.86,126.87 L588.72,126.34 L588.62,125.84 L588.56,125.36 L588.52,124.91 L588.51,124.53 L588.55,124.16 L588.66,123.76 L588.84,123.3 L589.07,122.82 L589.34,122.33 L589.64,121.84 L589.96,121.35 L590.27,120.89 L590.57,120.46 L590.85,120.06 L591.08,119.69 L591.23,119.38Z"/><path d="M617.5,128.42 L617.21,128.65 L616.9,128.97 L616.57,129.36 L616.2,129.8 L615.8,130.27 L615.38,130.76 L614.92,131.25 L614.45,131.73 L613.95,132.19 L613.44,132.6 L612.91,132.96 L612.36,133.25 L611.76,133.51 L611.08,133.75 L610.35,133.98 L609.57,134.19 L608.75,134.38 L607.9,134.56 L607.04,134.72 L606.18,134.91 L605.33,135.09 L604.48,135.27 L603.66,135.42 L602.89,135.57 L602.18,135.68 L601.5,135.75 L600.83,135.79 L600.16,135.81 L599.48,135.81 L598.78,135.81 L598.06,135.81 L597.31,135.82 L596.53,135.85 L595.71,135.91 L594.85,136.02 L593.97,136.17 L593.06,136.35 L592.11,136.54 L591.11,136.75 L590.08,136.98 L589.02,137.23 L587.95,137.5 L586.87,137.81 L585.81,138.13 L584.77,138.5 L583.76,138.89 L582.79,139.33 L581.88,139.81 L581.03,140.33 L580.19,140.89 L579.37,141.49 L578.58,142.12 L577.82,142.78 L577.09,143.47 L576.4,144.19 L575.76,144.92 L575.17,145.66 L574.63,146.43 L574.16,147.2 L573.76,147.98 L573.44,148.79 L573.2,149.63 L573.03,150.47 L572.94,151.32 L572.9,152.17 L572.91,153.01 L572.97,153.84 L573.07,154.65 L573.2,155.45 L573.34,156.23 L573.51,156.98 L573.69,157.73 L573.92,158.48 L574.2,159.24 L574.53,159.98 L574.89,160.69 L575.27,161.39 L575.68,162.07 L576.09,162.72 L576.51,163.36 L576.92,163.97 L577.32,164.57 L577.7,165.13 L578.05,165.68 L578.39,166.21 L578.74,166.73 L579.07,167.22 L579.41,167.69 L579.74,168.15 L580.07,168.6 L580.41,169.04 L580.75,169.48 L581.11,169.92 L581.47,170.36 L581.84,170.82 L582.25,171.31 L582.69,171.82 L583.17,172.33 L583.66,172.84 L584.17,173.35 L584.68,173.85 L585.18,174.35 L585.67,174.84 L586.13,175.33 L586.57,175.82 L586.97,176.3 L587.32,176.78 L587.63,177.25 L587.92,177.75 L588.19,178.28 L588.45,178.83 L588.69,179.39 L588.91,179.96 L589.11,180.52 L589.28,181.08 L589.44,181.63 L589.6,182.15 L589.73,182.65 L589.83,183.13 L589.9,183.55 L589.93,183.92 L589.92,184.31 L589.87,184.71 L589.78,185.13 L589.67,185.55 L589.53,185.97 L589.39,186.38 L589.24,186.77 L589.1,187.14 L588.97,187.48 L588.87,187.8 L588.82,188.07 L589.98,188.53 L590.11,188.35 L590.27,188.12 L590.46,187.83 L590.68,187.5 L590.91,187.11 L591.15,186.69 L591.39,186.23 L591.61,185.74 L591.8,185.21 L591.96,184.65 L592.06,184.05 L592.1,183.45 L592.08,182.87 L592.03,182.27 L591.95,181.66 L591.84,181.03 L591.68,180.38 L591.48,179.74 L591.26,179.09 L591.01,178.45 L590.73,177.81 L590.43,177.17 L590.11,176.56 L589.77,175.95 L589.37,175.35 L588.93,174.76 L588.46,174.19 L587.97,173.64 L587.46,173.1 L586.95,172.58 L586.43,172.07 L585.93,171.57 L585.44,171.09 L584.98,170.61 L584.55,170.15 L584.15,169.69 L583.77,169.23 L583.41,168.78 L583.05,168.35 L582.71,167.92 L582.38,167.51 L582.07,167.09 L581.75,166.67 L581.44,166.24 L581.13,165.8 L580.81,165.33 L580.49,164.85 L580.15,164.32 L579.78,163.76 L579.4,163.17 L579,162.58 L578.59,161.98 L578.2,161.37 L577.81,160.76 L577.44,160.14 L577.1,159.52 L576.79,158.91 L576.52,158.29 L576.29,157.69 L576.11,157.07 L575.95,156.42 L575.79,155.72 L575.66,155.02 L575.55,154.31 L575.46,153.6 L575.41,152.89 L575.4,152.2 L575.43,151.52 L575.5,150.85 L575.63,150.22 L575.8,149.61 L576.04,149.02 L576.34,148.42 L576.72,147.8 L577.17,147.16 L577.68,146.52 L578.24,145.88 L578.85,145.25 L579.5,144.64 L580.18,144.04 L580.89,143.47 L581.62,142.94 L582.37,142.44 L583.12,141.99 L583.89,141.58 L584.73,141.2 L585.64,140.84 L586.59,140.51 L587.58,140.2 L588.59,139.92 L589.61,139.66 L590.63,139.42 L591.64,139.2 L592.62,138.99 L593.56,138.8 L594.43,138.63 L595.22,138.49 L595.96,138.4 L596.68,138.35 L597.38,138.32 L598.08,138.31 L598.77,138.31 L599.48,138.31 L600.2,138.31 L600.94,138.29 L601.7,138.24 L602.5,138.16 L603.31,138.03 L604.13,137.88 L604.97,137.72 L605.84,137.54 L606.73,137.35 L607.63,137.13 L608.51,136.86 L609.38,136.56 L610.23,136.24 L611.05,135.9 L611.83,135.55 L612.56,135.16 L613.24,134.75 L613.87,134.28 L614.44,133.75 L614.96,133.19 L615.43,132.59 L615.86,131.99 L616.24,131.39 L616.58,130.81 L616.88,130.25 L617.14,129.74 L617.37,129.29 L617.56,128.9 L617.7,128.58Z"/></g><defs><radialGradient id="gBlob"><stop offset="0" stop-color="#3a86cf"/><stop offset="0.6" stop-color="#3b87cf"/><stop offset="1" stop-color="#3b87cf" stop-opacity="0"/></radialGradient></defs><g fill="#5b9ad6" opacity="0.55"><circle cx="1168.94" cy="196.08" r="0.5"/><circle cx="1163.37" cy="211.96" r="0.5"/><circle cx="1149.52" cy="195.31" r="0.5"/><circle cx="1164.99" cy="206.57" r="0.5"/><circle cx="1158" cy="186.01" r="0.5"/><circle cx="1168.2" cy="185.71" r="0.5"/><circle cx="1170.16" cy="190.04" r="0.5"/><circle cx="1159.61" cy="213.05" r="0.5"/><circle cx="1172.65" cy="209.42" r="0.5"/><circle cx="1169.95" cy="184.68" r="0.5"/><circle cx="1158.48" cy="209.45" r="0.5"/><circle cx="1156.36" cy="188.29" r="0.5"/><circle cx="1182.81" cy="164.19" r="0.5"/><circle cx="1167.47" cy="166.41" r="0.5"/><circle cx="1165.15" cy="166.33" r="0.5"/><circle cx="1164.52" cy="206.41" r="0.5"/><circle cx="1146.65" cy="185.73" r="0.5"/><circle cx="1163.75" cy="214.08" r="0.5"/><circle cx="1185.95" cy="168.05" r="0.5"/><circle cx="1169.04" cy="201.9" r="0.5"/><circle cx="1160.94" cy="213.44" r="0.5"/><circle cx="1155.52" cy="214.51" r="0.5"/><circle cx="1170.07" cy="199.81" r="0.5"/><circle cx="1172.02" cy="203.76" r="0.5"/><circle cx="1169.89" cy="200.89" r="0.5"/><circle cx="1155.67" cy="176.9" r="0.5"/><circle cx="1165.23" cy="194.59" r="0.5"/><circle cx="1160.83" cy="206.94" r="0.5"/><circle cx="1159.19" cy="218.13" r="0.5"/><circle cx="1170.49" cy="188.7" r="0.5"/><circle cx="1184.19" cy="160.37" r="0.5"/><circle cx="1159.45" cy="191.36" r="0.5"/><circle cx="1159.21" cy="187.2" r="0.5"/><circle cx="1168.25" cy="174.2" r="0.5"/><circle cx="1181.28" cy="199.94" r="0.5"/><circle cx="1174.46" cy="179" r="0.5"/><circle cx="1173.61" cy="174.79" r="0.5"/><circle cx="1170.23" cy="183.54" r="0.5"/><circle cx="1161.93" cy="209.69" r="0.5"/><circle cx="1168.32" cy="180.19" r="0.5"/><circle cx="1153.16" cy="208.99" r="0.5"/><circle cx="1143.87" cy="227.3" r="0.5"/><circle cx="1173.19" cy="217.94" r="0.5"/><circle cx="1148.85" cy="197.58" r="0.5"/><circle cx="1169.22" cy="181.74" r="0.5"/><circle cx="1166.5" cy="194.98" r="0.5"/><circle cx="1163.2" cy="190.6" r="0.5"/><circle cx="1175.23" cy="183.06" r="0.5"/><circle cx="1160.01" cy="201.57" r="0.5"/><circle cx="1160.5" cy="209.72" r="0.5"/><circle cx="1174.76" cy="186.66" r="0.5"/><circle cx="1167.87" cy="185.63" r="0.5"/><circle cx="1173.76" cy="171.35" r="0.5"/><circle cx="1162.28" cy="193.34" r="0.5"/><circle cx="1163.37" cy="192.95" r="0.5"/><circle cx="1181.76" cy="167.08" r="0.5"/><circle cx="1149.94" cy="217.83" r="0.5"/><circle cx="1161.98" cy="218.73" r="0.5"/><circle cx="1170.48" cy="173.43" r="0.5"/><circle cx="1167.21" cy="185.34" r="0.5"/><circle cx="1180.96" cy="195.38" r="0.5"/><circle cx="1152.73" cy="195.59" r="0.5"/><circle cx="1173.58" cy="186.46" r="0.5"/><circle cx="1177.26" cy="188.96" r="0.5"/><circle cx="1144.77" cy="197.73" r="0.5"/><circle cx="1168.55" cy="178.42" r="0.5"/><circle cx="1147.43" cy="208.26" r="0.5"/><circle cx="1173.74" cy="179.29" r="0.5"/><circle cx="1173.38" cy="193.7" r="0.5"/><circle cx="1151.35" cy="200.73" r="0.5"/><circle cx="1150.32" cy="203.35" r="0.5"/><circle cx="1155.79" cy="195.98" r="0.5"/><circle cx="1161.21" cy="192.69" r="0.5"/><circle cx="1169.22" cy="198.52" r="0.5"/><circle cx="1186.3" cy="180.34" r="0.5"/><circle cx="1167.13" cy="194.11" r="0.5"/><circle cx="1169.1" cy="206.03" r="0.5"/><circle cx="1170.43" cy="170.63" r="0.5"/><circle cx="1167.3" cy="182.72" r="0.5"/><circle cx="1164.98" cy="198.15" r="0.5"/><circle cx="1168.96" cy="204.07" r="0.5"/><circle cx="1149.17" cy="214.16" r="0.5"/><circle cx="1155.75" cy="192.93" r="0.5"/><circle cx="1155.33" cy="184.26" r="0.5"/><circle cx="1153.85" cy="188.97" r="0.5"/><circle cx="1167.68" cy="198.95" r="0.5"/><circle cx="1188" cy="166.96" r="0.5"/><circle cx="1176.17" cy="171.8" r="0.5"/><circle cx="1177.13" cy="163.44" r="0.5"/><circle cx="1153" cy="194" r="0.5"/><circle cx="1174.41" cy="195.61" r="0.5"/><circle cx="1157.53" cy="202.84" r="0.5"/><circle cx="1158.98" cy="200.52" r="0.5"/><circle cx="1150.19" cy="198.65" r="0.5"/><circle cx="1158.67" cy="167.81" r="0.5"/><circle cx="1161.11" cy="209.69" r="0.5"/><circle cx="1169.91" cy="179.57" r="0.5"/><circle cx="1163.17" cy="199.29" r="0.5"/><circle cx="1169.77" cy="201.98" r="0.5"/><circle cx="1153.75" cy="198.42" r="0.5"/><circle cx="1162.25" cy="202.2" r="0.5"/><circle cx="1185.48" cy="182.99" r="0.5"/><circle cx="1150.59" cy="195.47" r="0.5"/><circle cx="1171.91" cy="222.79" r="0.5"/><circle cx="1165.54" cy="202.51" r="0.5"/><circle cx="1172.36" cy="164.73" r="0.5"/><circle cx="1158.86" cy="195.71" r="0.5"/><circle cx="1163.52" cy="213.8" r="0.5"/><circle cx="1157.3" cy="172.74" r="0.5"/><circle cx="1169.5" cy="179.91" r="0.5"/><circle cx="1167.48" cy="193.06" r="0.5"/><circle cx="1153.44" cy="212.82" r="0.5"/><circle cx="1172.93" cy="216.33" r="0.5"/><circle cx="1180.14" cy="163.61" r="0.5"/><circle cx="1165.74" cy="216.3" r="0.5"/><circle cx="1177.02" cy="204.1" r="0.5"/><circle cx="1191.05" cy="172.53" r="0.5"/><circle cx="1154.25" cy="197.1" r="0.5"/><circle cx="1159.47" cy="204.26" r="0.5"/><circle cx="1167.75" cy="212.73" r="0.5"/><circle cx="1168.88" cy="185.34" r="0.5"/><circle cx="1167.05" cy="203.17" r="0.5"/><circle cx="1158.98" cy="168" r="0.5"/><circle cx="1163.94" cy="190.52" r="0.5"/><circle cx="1157.01" cy="204.55" r="0.5"/><circle cx="1180.18" cy="199.84" r="0.5"/><circle cx="1161.74" cy="192.61" r="0.5"/><circle cx="1162.43" cy="215.61" r="0.5"/><circle cx="1158.73" cy="205.49" r="0.5"/><circle cx="1169.93" cy="184.85" r="0.5"/><circle cx="1160.74" cy="199.97" r="0.5"/><circle cx="1170.62" cy="181.9" r="0.5"/><circle cx="1169.64" cy="193.02" r="0.5"/><circle cx="1164.99" cy="201.04" r="0.5"/><circle cx="1171.67" cy="203.13" r="0.5"/><circle cx="1154.61" cy="181.43" r="0.5"/><circle cx="1171.94" cy="202.04" r="0.5"/><circle cx="1159.97" cy="196.55" r="0.5"/><circle cx="1162.98" cy="176.66" r="0.5"/><circle cx="1169.74" cy="196.2" r="0.5"/><circle cx="1162.41" cy="178.89" r="0.5"/><circle cx="1167.92" cy="218.5" r="0.5"/><circle cx="1158.74" cy="205.96" r="0.5"/><circle cx="1177.51" cy="158.05" r="0.5"/><circle cx="1174.34" cy="181.62" r="0.5"/><circle cx="1182.89" cy="154.46" r="0.5"/><circle cx="1174.57" cy="174.08" r="0.5"/><circle cx="1167.77" cy="201.3" r="0.5"/><circle cx="1180.68" cy="186.84" r="0.5"/><circle cx="1168.89" cy="175.87" r="0.5"/><circle cx="1179.26" cy="203.21" r="0.5"/><circle cx="1169.58" cy="186.53" r="0.5"/><circle cx="1184.72" cy="180.55" r="0.5"/><circle cx="1169.17" cy="174.31" r="0.5"/><circle cx="1167.96" cy="203.31" r="0.5"/><circle cx="1163.45" cy="173.37" r="0.5"/><circle cx="1159.83" cy="200.76" r="0.5"/><circle cx="1163.07" cy="176.46" r="0.5"/><circle cx="1183.69" cy="156.1" r="0.5"/><circle cx="1186.27" cy="194.11" r="0.5"/><circle cx="1174.84" cy="188.62" r="0.5"/><circle cx="1167.24" cy="199.22" r="0.5"/><circle cx="1157.06" cy="209.97" r="0.5"/><circle cx="1157.34" cy="190.79" r="0.5"/><circle cx="1175.14" cy="181.97" r="0.5"/><circle cx="1158.38" cy="224.77" r="0.5"/><circle cx="1163.09" cy="210.45" r="0.5"/><circle cx="1156.61" cy="205.23" r="0.5"/><circle cx="1182.77" cy="195.88" r="0.5"/><circle cx="1151.91" cy="215.56" r="0.5"/><circle cx="1171.05" cy="203.82" r="0.5"/><circle cx="1166.43" cy="199.97" r="0.5"/><circle cx="1179.82" cy="178.36" r="0.5"/><circle cx="1158.65" cy="199.36" r="0.5"/><circle cx="1164.25" cy="199.32" r="0.5"/><circle cx="1158.63" cy="207.12" r="0.5"/><circle cx="1165.1" cy="184.83" r="0.5"/><circle cx="1163.84" cy="202.85" r="0.5"/><circle cx="1159.81" cy="178.43" r="0.5"/><circle cx="1168.18" cy="213.85" r="0.5"/><circle cx="1156.09" cy="191.25" r="0.5"/><circle cx="1177.95" cy="198.93" r="0.5"/><circle cx="1153.14" cy="200.39" r="0.5"/><circle cx="1175.5" cy="204.34" r="0.5"/><circle cx="1164.45" cy="206.39" r="0.5"/><circle cx="1176.37" cy="182.64" r="0.5"/><circle cx="1167.49" cy="202.29" r="0.5"/><circle cx="1172.17" cy="195.5" r="0.5"/><circle cx="1168.48" cy="189.83" r="0.5"/><circle cx="1158.03" cy="222.44" r="0.5"/><circle cx="1147.79" cy="189.12" r="0.5"/><circle cx="1166.72" cy="196.69" r="0.5"/><circle cx="1144.91" cy="187.86" r="0.5"/><circle cx="1152.32" cy="201.99" r="0.5"/><circle cx="1144.69" cy="191.25" r="0.5"/><circle cx="1170.77" cy="192.85" r="0.5"/><circle cx="1168.17" cy="186.48" r="0.5"/><circle cx="1171.88" cy="200.07" r="0.5"/><circle cx="1164.54" cy="186.91" r="0.5"/><circle cx="1172.15" cy="193.17" r="0.5"/><circle cx="1176.49" cy="179.31" r="0.5"/><circle cx="1155.69" cy="204.51" r="0.5"/><circle cx="1168.65" cy="192.86" r="0.5"/><circle cx="1157.08" cy="173.42" r="0.5"/><circle cx="1151.09" cy="201.08" r="0.5"/><circle cx="1178.06" cy="182.1" r="0.5"/><circle cx="1173.35" cy="193.02" r="0.5"/><circle cx="1165.12" cy="204.96" r="0.5"/><circle cx="1166.03" cy="194.32" r="0.5"/><circle cx="1171.45" cy="200.09" r="0.5"/><circle cx="1160.99" cy="174.37" r="0.5"/><circle cx="1161.99" cy="202.73" r="0.5"/><circle cx="1156.28" cy="180.8" r="0.5"/><circle cx="1156.27" cy="207.06" r="0.5"/><circle cx="1169.87" cy="166.58" r="0.5"/><circle cx="1161.96" cy="200.43" r="0.5"/><circle cx="1165.33" cy="196.95" r="0.5"/><circle cx="1163.16" cy="194.65" r="0.5"/><circle cx="1168.84" cy="191.83" r="0.5"/><circle cx="1170.44" cy="190.93" r="0.5"/><circle cx="1158.34" cy="212.33" r="0.5"/><circle cx="1171.88" cy="195.54" r="0.5"/><circle cx="1181.45" cy="190.57" r="0.5"/><circle cx="1158.48" cy="205.88" r="0.5"/><circle cx="1161.43" cy="189.52" r="0.5"/><circle cx="1160.21" cy="197.42" r="0.5"/><circle cx="1179.27" cy="209.93" r="0.5"/><circle cx="1175.77" cy="201.26" r="0.5"/><circle cx="1161.36" cy="208.14" r="0.5"/><circle cx="1163.31" cy="205.15" r="0.5"/><circle cx="1191.15" cy="177.86" r="0.5"/><circle cx="1174" cy="184.73" r="0.5"/><circle cx="1168.1" cy="196.07" r="0.5"/><circle cx="1161.77" cy="169.14" r="0.5"/><circle cx="1155.58" cy="195.58" r="0.5"/><circle cx="1162.31" cy="175.77" r="0.5"/><circle cx="1161.85" cy="178.51" r="0.5"/><circle cx="1169.52" cy="215.5" r="0.5"/><circle cx="1165.06" cy="176.82" r="0.5"/><circle cx="1146.27" cy="216.19" r="0.5"/><circle cx="1168.86" cy="186.11" r="0.5"/><circle cx="1162.99" cy="210.1" r="0.5"/><circle cx="1165.61" cy="170.94" r="0.5"/><circle cx="1158.37" cy="192.96" r="0.5"/><circle cx="1173.28" cy="179.42" r="0.5"/><circle cx="1148.01" cy="198.14" r="0.5"/><circle cx="1167.54" cy="183.72" r="0.5"/><circle cx="1164.56" cy="192.12" r="0.5"/><circle cx="1154.38" cy="182.69" r="0.5"/><circle cx="1162.18" cy="207.67" r="0.5"/><circle cx="1179.62" cy="169.9" r="0.5"/><circle cx="1159.61" cy="193.5" r="0.5"/><circle cx="1158.86" cy="203.57" r="0.5"/><circle cx="1160.7" cy="206.55" r="0.5"/><circle cx="1180.49" cy="201.76" r="0.5"/><circle cx="1172.98" cy="200.05" r="0.5"/><circle cx="1169.62" cy="204.21" r="0.5"/><circle cx="1177.07" cy="157.61" r="0.5"/><circle cx="1165.7" cy="215.07" r="0.5"/><circle cx="1163.66" cy="192.83" r="0.5"/><circle cx="1170.54" cy="189.19" r="0.5"/><circle cx="1176.87" cy="178.24" r="0.5"/><circle cx="1152.99" cy="198.71" r="0.5"/><circle cx="1145.49" cy="215.39" r="0.5"/><circle cx="1161.66" cy="173.44" r="0.5"/><circle cx="1175.17" cy="198.17" r="0.5"/><circle cx="1181.07" cy="191.6" r="0.5"/><circle cx="1182.34" cy="189.58" r="0.5"/><circle cx="1155.06" cy="199.82" r="0.5"/><circle cx="1181.07" cy="167.71" r="0.5"/><circle cx="1161.52" cy="191.22" r="0.5"/><circle cx="1179.77" cy="173.29" r="0.5"/><circle cx="1163.65" cy="185.06" r="0.5"/><circle cx="1162.55" cy="191.81" r="0.5"/><circle cx="1167.08" cy="197.17" r="0.5"/><circle cx="1155.33" cy="198.88" r="0.5"/><circle cx="1162.67" cy="179.61" r="0.5"/><circle cx="1186.42" cy="180.06" r="0.5"/><circle cx="1168.33" cy="220.43" r="0.5"/><circle cx="1169.84" cy="211.18" r="0.5"/><circle cx="1167.24" cy="205.69" r="0.5"/><circle cx="1163.1" cy="211.98" r="0.5"/><circle cx="1177.99" cy="199.18" r="0.5"/><circle cx="1163.37" cy="180.54" r="0.5"/><circle cx="1162.15" cy="187.61" r="0.5"/><circle cx="1178.38" cy="197.49" r="0.5"/><circle cx="1177.1" cy="172.57" r="0.5"/><circle cx="1160.46" cy="206.52" r="0.5"/><circle cx="1178.28" cy="164.13" r="0.5"/><circle cx="1144.85" cy="210.48" r="0.5"/><circle cx="1165.68" cy="215.6" r="0.5"/><circle cx="1157.26" cy="196.76" r="0.5"/><circle cx="1175.13" cy="192.96" r="0.5"/><circle cx="1158.07" cy="193.84" r="0.5"/><circle cx="1173.01" cy="194.47" r="0.5"/><circle cx="1143.31" cy="213.33" r="0.5"/><circle cx="1181.97" cy="167.46" r="0.5"/><circle cx="1156.88" cy="184.37" r="0.5"/><circle cx="1156.58" cy="207.83" r="0.5"/><circle cx="1174.32" cy="176.93" r="0.5"/><circle cx="1166.22" cy="223.52" r="0.5"/><circle cx="1182.58" cy="174.97" r="0.5"/><circle cx="1152.78" cy="208.15" r="0.5"/><circle cx="1164.32" cy="198.99" r="0.5"/><circle cx="1166.72" cy="163.95" r="0.5"/><circle cx="1160.18" cy="204.91" r="0.5"/><circle cx="1157.25" cy="201.1" r="0.5"/><circle cx="1155.32" cy="216.29" r="0.5"/><circle cx="1164.06" cy="200.16" r="0.5"/><circle cx="1168.98" cy="180.63" r="0.5"/><circle cx="1166.06" cy="197.65" r="0.5"/><circle cx="1163.33" cy="202.1" r="0.5"/><circle cx="1146.44" cy="216.93" r="0.5"/><circle cx="1169.76" cy="188.3" r="0.5"/><circle cx="1159.99" cy="178.34" r="0.5"/><circle cx="1160.57" cy="202.33" r="0.5"/><circle cx="1162.39" cy="195.55" r="0.5"/><circle cx="1170.67" cy="172.94" r="0.5"/><circle cx="1166.49" cy="201.43" r="0.5"/><circle cx="1168.89" cy="188.7" r="0.5"/><circle cx="1180.18" cy="173.19" r="0.5"/><circle cx="1155.69" cy="194.9" r="0.5"/><circle cx="1168.08" cy="175.19" r="0.5"/><circle cx="1163.23" cy="187.54" r="0.5"/><circle cx="1184.39" cy="167.39" r="0.5"/><circle cx="1155.12" cy="221.28" r="0.5"/><circle cx="1151.07" cy="212.81" r="0.5"/><circle cx="1160.05" cy="178.84" r="0.5"/><circle cx="1166.22" cy="190.08" r="0.5"/><circle cx="1162.12" cy="180.79" r="0.5"/><circle cx="1165.91" cy="184.93" r="0.5"/><circle cx="1171.74" cy="180.52" r="0.5"/><circle cx="1179.24" cy="190.54" r="0.5"/><circle cx="1171.56" cy="179.35" r="0.5"/><circle cx="1169.16" cy="185.06" r="0.5"/><circle cx="1179.78" cy="194.93" r="0.5"/><circle cx="1149.52" cy="203.27" r="0.5"/><circle cx="1163.23" cy="186.33" r="0.5"/><circle cx="1179.19" cy="180.67" r="0.5"/><circle cx="1168.39" cy="186.21" r="0.5"/><circle cx="1154.44" cy="198.76" r="0.5"/><circle cx="1160.4" cy="203.07" r="0.5"/><circle cx="1165.8" cy="212.67" r="0.5"/><circle cx="1158.47" cy="181.46" r="0.5"/><circle cx="1133.93" cy="202.32" r="0.5"/><circle cx="1154.86" cy="219.82" r="0.5"/><circle cx="1180.63" cy="179.14" r="0.5"/><circle cx="1188.08" cy="180.47" r="0.5"/><circle cx="1169.7" cy="164.86" r="0.5"/><circle cx="1158.54" cy="195.58" r="0.5"/><circle cx="1162.35" cy="192.95" r="0.5"/><circle cx="1180.62" cy="197.8" r="0.5"/><circle cx="1165.69" cy="207.85" r="0.5"/><circle cx="1148.2" cy="204.3" r="0.5"/><circle cx="1170.44" cy="179.93" r="0.5"/><circle cx="1176.38" cy="199.2" r="0.5"/><circle cx="1156.38" cy="214.4" r="0.5"/><circle cx="1166.59" cy="170.18" r="0.5"/><circle cx="1173.65" cy="194.6" r="0.5"/><circle cx="1176.19" cy="184.03" r="0.5"/><circle cx="1175.05" cy="182.66" r="0.5"/><circle cx="1173.03" cy="185.02" r="0.5"/><circle cx="1159.61" cy="208.32" r="0.5"/><circle cx="1172.82" cy="200.63" r="0.5"/><circle cx="1172.22" cy="189.47" r="0.5"/><circle cx="1171.2" cy="194.57" r="0.5"/><circle cx="1163.37" cy="203.71" r="0.5"/><circle cx="1157.61" cy="203.42" r="0.5"/><circle cx="1174.58" cy="218.89" r="0.5"/><circle cx="1161.61" cy="182.71" r="0.5"/><circle cx="1165.05" cy="201.41" r="0.5"/><circle cx="1167.65" cy="203.9" r="0.5"/><circle cx="1176.7" cy="192.63" r="0.5"/><circle cx="1174.21" cy="195.09" r="0.5"/><circle cx="1155.45" cy="200.29" r="0.5"/><circle cx="1160.92" cy="212.84" r="0.5"/><circle cx="1152.84" cy="186.42" r="0.5"/><circle cx="1160.88" cy="202.89" r="0.5"/><circle cx="1154.01" cy="210.7" r="0.5"/><circle cx="1159.73" cy="194.35" r="0.5"/><circle cx="1162.78" cy="222.38" r="0.5"/><circle cx="1169.14" cy="192.6" r="0.5"/><circle cx="1162.31" cy="203.82" r="0.5"/><circle cx="1159.33" cy="204.22" r="0.5"/><circle cx="1170.24" cy="195.05" r="0.5"/><circle cx="1154.96" cy="200.55" r="0.5"/><circle cx="1162.49" cy="172" r="0.5"/><circle cx="1165.3" cy="191.73" r="0.5"/><circle cx="1166.08" cy="183.54" r="0.5"/><circle cx="1158.82" cy="210.13" r="0.5"/><circle cx="1147.62" cy="210.54" r="0.5"/><circle cx="1165.5" cy="195.72" r="0.5"/><circle cx="1164.74" cy="220.42" r="0.5"/><circle cx="1174.01" cy="199.99" r="0.5"/><circle cx="1172.58" cy="179.31" r="0.5"/><circle cx="1151.17" cy="195.66" r="0.5"/><circle cx="1183.34" cy="186.16" r="0.5"/><circle cx="1166.35" cy="192.78" r="0.5"/><circle cx="1150.97" cy="204.21" r="0.5"/><circle cx="1173.46" cy="200.84" r="0.5"/><circle cx="1169.75" cy="201.98" r="0.5"/><circle cx="1166.67" cy="188.8" r="0.5"/><circle cx="1156.45" cy="205.48" r="0.5"/><circle cx="1163.46" cy="215.08" r="0.5"/><circle cx="1160.81" cy="184.15" r="0.5"/><circle cx="1150.34" cy="199.79" r="0.5"/><circle cx="1170.63" cy="194.76" r="0.5"/><circle cx="1155.69" cy="205.98" r="0.5"/><circle cx="1154.84" cy="183.43" r="0.5"/><circle cx="1178.69" cy="197.01" r="0.5"/><circle cx="1174.94" cy="170.97" r="0.5"/><circle cx="1170.58" cy="198.06" r="0.5"/><circle cx="1180.98" cy="190.34" r="0.5"/><circle cx="1169.65" cy="192.17" r="0.5"/><circle cx="1180.67" cy="195.77" r="0.5"/><circle cx="1169.31" cy="212.32" r="0.5"/><circle cx="1169.99" cy="191.6" r="0.5"/><circle cx="1160.53" cy="205.49" r="0.5"/><circle cx="1140.66" cy="197.2" r="0.5"/><circle cx="1157.75" cy="185.54" r="0.5"/><circle cx="1156.8" cy="188.31" r="0.5"/><circle cx="1160.92" cy="197.49" r="0.5"/><circle cx="1155.05" cy="218.31" r="0.5"/><circle cx="1144.2" cy="193.72" r="0.5"/><circle cx="1182.2" cy="169.64" r="0.5"/><circle cx="1169.07" cy="188.72" r="0.5"/><circle cx="1168.29" cy="180" r="0.5"/><circle cx="1178.49" cy="186.79" r="0.5"/><circle cx="1163.5" cy="200.96" r="0.5"/><circle cx="1156.2" cy="186.26" r="0.5"/><circle cx="1168.32" cy="188.36" r="0.5"/><circle cx="1175.79" cy="176.89" r="0.5"/><circle cx="1161.54" cy="206.62" r="0.5"/><circle cx="1144.86" cy="192.78" r="0.5"/><circle cx="1154.83" cy="192.39" r="0.5"/><circle cx="1176.72" cy="177.19" r="0.5"/><circle cx="1174.29" cy="183" r="0.5"/><circle cx="1169.67" cy="199.54" r="0.5"/><circle cx="1161.59" cy="218.84" r="0.5"/><circle cx="1149.66" cy="189.11" r="0.5"/><circle cx="1169.09" cy="198.76" r="0.5"/><circle cx="1172.94" cy="205.99" r="0.5"/><circle cx="1169.52" cy="173.93" r="0.5"/><circle cx="1158.89" cy="204.34" r="0.5"/><circle cx="1167.99" cy="203.58" r="0.5"/><circle cx="1177.9" cy="181.12" r="0.5"/><circle cx="1169.82" cy="184.35" r="0.5"/><circle cx="1159.6" cy="193.63" r="0.5"/><circle cx="1188.22" cy="164.3" r="0.5"/><circle cx="1164.62" cy="183.43" r="0.5"/><circle cx="1149.87" cy="213.11" r="0.5"/><circle cx="1160.03" cy="199.12" r="0.5"/><circle cx="1166.94" cy="183.83" r="0.5"/><circle cx="1173.66" cy="186.97" r="0.5"/><circle cx="1169.35" cy="184.13" r="0.5"/><circle cx="1171.98" cy="183.74" r="0.5"/><circle cx="1165.69" cy="190.96" r="0.5"/><circle cx="1166.55" cy="196.88" r="0.5"/><circle cx="1164.72" cy="182.11" r="0.5"/><circle cx="1164.08" cy="198.73" r="0.5"/><circle cx="1173.15" cy="178.45" r="0.5"/><circle cx="1176.98" cy="188.44" r="0.5"/><circle cx="1177.88" cy="199.43" r="0.5"/><circle cx="1148.89" cy="203.22" r="0.5"/><circle cx="1151.72" cy="207.56" r="0.5"/><circle cx="1159.56" cy="201.66" r="0.5"/><circle cx="1164.29" cy="187.55" r="0.5"/><circle cx="1166.32" cy="204.2" r="0.5"/><circle cx="1165.96" cy="197.76" r="0.5"/><circle cx="1152.67" cy="195.9" r="0.5"/><circle cx="1164.02" cy="194.89" r="0.5"/><circle cx="1167.74" cy="189.29" r="0.5"/><circle cx="1171.07" cy="211.63" r="0.5"/><circle cx="1142.5" cy="205.53" r="0.5"/><circle cx="1156.48" cy="202.21" r="0.5"/><circle cx="1163.74" cy="185.68" r="0.5"/><circle cx="1166.59" cy="195.78" r="0.5"/><circle cx="1156.83" cy="179.3" r="0.5"/><circle cx="1156.83" cy="187.16" r="0.5"/><circle cx="1166.17" cy="176.42" r="0.5"/><circle cx="1163.99" cy="206.76" r="0.5"/><circle cx="1163.67" cy="195.12" r="0.5"/><circle cx="1165.49" cy="183.25" r="0.5"/><circle cx="1168.34" cy="207.46" r="0.5"/><circle cx="1162.38" cy="203.59" r="0.5"/><circle cx="1156.28" cy="212.5" r="0.5"/><circle cx="1165.47" cy="200.97" r="0.5"/><circle cx="1164.72" cy="156.28" r="0.5"/><circle cx="1155.62" cy="207.81" r="0.5"/><circle cx="1154.37" cy="187.8" r="0.5"/><circle cx="1157.94" cy="192.72" r="0.5"/><circle cx="1157.87" cy="190.67" r="0.5"/><circle cx="1184.94" cy="155.81" r="0.5"/><circle cx="1151.46" cy="176.5" r="0.5"/><circle cx="1157.95" cy="206.06" r="0.5"/><circle cx="1169.61" cy="167.61" r="0.5"/><circle cx="1160.23" cy="186.39" r="0.5"/><circle cx="1149.1" cy="190.02" r="0.5"/><circle cx="1145.94" cy="219.69" r="0.5"/><circle cx="1176.78" cy="186.07" r="0.5"/><circle cx="1153.48" cy="193.19" r="0.5"/><circle cx="1169.44" cy="177.63" r="0.5"/><circle cx="1155.5" cy="206.78" r="0.5"/><circle cx="1176.16" cy="204.92" r="0.5"/><circle cx="1160.41" cy="193.44" r="0.5"/><circle cx="1149.55" cy="195.9" r="0.5"/><circle cx="1165.53" cy="173.68" r="0.5"/><circle cx="1157.81" cy="189.78" r="0.5"/><circle cx="1142.46" cy="198.57" r="0.5"/><circle cx="1182.31" cy="201.91" r="0.5"/><circle cx="1179.98" cy="170.56" r="0.5"/><circle cx="1168.19" cy="171.79" r="0.5"/><circle cx="1166.01" cy="215.64" r="0.5"/><circle cx="1176.75" cy="212.32" r="0.5"/><circle cx="1165.29" cy="170.67" r="0.5"/><circle cx="1159.51" cy="198.93" r="0.5"/><circle cx="1166.9" cy="182.55" r="0.5"/><circle cx="1152.73" cy="189.96" r="0.5"/><circle cx="1182.47" cy="174.83" r="0.5"/><circle cx="1152.79" cy="188.12" r="0.5"/><circle cx="1189.04" cy="203.5" r="0.5"/><circle cx="1177.12" cy="193.54" r="0.5"/><circle cx="1147.81" cy="225.04" r="0.5"/><circle cx="1171.55" cy="202.31" r="0.5"/><circle cx="1164.65" cy="212.32" r="0.5"/><circle cx="1172.74" cy="179.59" r="0.5"/><circle cx="1167" cy="199.17" r="0.5"/><circle cx="1145.12" cy="204.11" r="0.5"/><circle cx="1154.14" cy="220.47" r="0.5"/><circle cx="1161.26" cy="198.95" r="0.5"/><circle cx="1159.56" cy="203.12" r="0.5"/><circle cx="1174.23" cy="167.31" r="0.5"/><circle cx="1148.27" cy="204.28" r="0.5"/><circle cx="1161.74" cy="211.51" r="0.5"/><circle cx="1159.26" cy="197.43" r="0.5"/><circle cx="1151.11" cy="193.54" r="0.5"/><circle cx="1154.42" cy="207.33" r="0.5"/><circle cx="1162.74" cy="202.74" r="0.5"/><circle cx="1164.33" cy="180.56" r="0.5"/><circle cx="1168.61" cy="192.74" r="0.5"/><circle cx="1163.64" cy="206.62" r="0.5"/><circle cx="1157.44" cy="175.93" r="0.5"/><circle cx="1169.52" cy="191.33" r="0.5"/><circle cx="1153.79" cy="185.76" r="0.5"/><circle cx="1169.25" cy="180.86" r="0.5"/><circle cx="1145.87" cy="201.88" r="0.5"/><circle cx="1165.03" cy="189.15" r="0.5"/><circle cx="1167.05" cy="221.63" r="0.5"/><circle cx="1160.48" cy="216.12" r="0.5"/><circle cx="1155.64" cy="209.05" r="0.5"/><circle cx="1166.29" cy="185.15" r="0.5"/><circle cx="1167.8" cy="187.86" r="0.5"/><circle cx="1180.05" cy="176.29" r="0.5"/><circle cx="1162.2" cy="185.49" r="0.5"/><circle cx="1163.45" cy="201.82" r="0.5"/><circle cx="1187.96" cy="175.81" r="0.5"/><circle cx="1175.22" cy="196.49" r="0.5"/><circle cx="1167.91" cy="193.33" r="0.5"/><circle cx="1163.31" cy="192.58" r="0.5"/><circle cx="1192.83" cy="198.45" r="0.5"/><circle cx="1172.44" cy="202.77" r="0.5"/><circle cx="1171.85" cy="181.71" r="0.5"/><circle cx="1167.3" cy="181.64" r="0.5"/><circle cx="1177.8" cy="197.62" r="0.5"/><circle cx="1176.11" cy="171.41" r="0.5"/><circle cx="1154.05" cy="192.03" r="0.5"/><circle cx="1166.28" cy="181.52" r="0.5"/><circle cx="1161.32" cy="207.66" r="0.5"/><circle cx="1153.84" cy="189.81" r="0.5"/><circle cx="1160" cy="171.41" r="0.5"/><circle cx="1161.1" cy="222.03" r="0.5"/><circle cx="1149.2" cy="193.13" r="0.5"/><circle cx="1178.37" cy="183.4" r="0.5"/><circle cx="1162.42" cy="197.71" r="0.5"/><circle cx="1171.96" cy="195.56" r="0.5"/><circle cx="1154.71" cy="193.18" r="0.5"/><circle cx="1159.56" cy="194.9" r="0.5"/><circle cx="1149.25" cy="217.19" r="0.5"/><circle cx="1157.81" cy="211.09" r="0.5"/><circle cx="1176.05" cy="179.89" r="0.5"/><circle cx="1186.74" cy="156.09" r="0.5"/><circle cx="1158.18" cy="189.88" r="0.5"/><circle cx="1172.9" cy="184.16" r="0.5"/><circle cx="1148.12" cy="216.77" r="0.5"/><circle cx="1165.12" cy="184.23" r="0.5"/><circle cx="1168.89" cy="190.01" r="0.5"/><circle cx="1166.76" cy="159.86" r="0.5"/><circle cx="1152.84" cy="192.77" r="0.5"/><circle cx="1173.69" cy="215.3" r="0.5"/><circle cx="1175.54" cy="183.81" r="0.5"/><circle cx="1164.51" cy="196.01" r="0.5"/><circle cx="1170.38" cy="161.6" r="0.5"/><circle cx="1182.17" cy="180.26" r="0.5"/><circle cx="1160.42" cy="209.08" r="0.5"/><circle cx="1160.45" cy="205.36" r="0.5"/><circle cx="1173.25" cy="183.12" r="0.5"/><circle cx="1179.28" cy="179.62" r="0.5"/><circle cx="1156.17" cy="230.41" r="0.5"/><circle cx="1133.3" cy="202.68" r="0.5"/><circle cx="1158.48" cy="197.83" r="0.5"/><circle cx="1187.2" cy="168.34" r="0.5"/><circle cx="1171.36" cy="182.46" r="0.5"/><circle cx="1166.13" cy="179.08" r="0.5"/><circle cx="1169.14" cy="176.71" r="0.5"/><circle cx="1166.3" cy="198.03" r="0.5"/><circle cx="1183.62" cy="215.92" r="0.5"/><circle cx="1163.37" cy="190.04" r="0.5"/><circle cx="1153.67" cy="205.93" r="0.5"/><circle cx="1169.14" cy="197.36" r="0.5"/><circle cx="1151.37" cy="214.66" r="0.5"/><circle cx="1180.01" cy="169.23" r="0.5"/><circle cx="1162.27" cy="193" r="0.5"/><circle cx="1164.74" cy="198.51" r="0.5"/><circle cx="1185.27" cy="179.2" r="0.5"/><circle cx="1154.63" cy="199.35" r="0.5"/><circle cx="1164.08" cy="185.39" r="0.5"/><circle cx="1180.54" cy="184.48" r="0.5"/><circle cx="1143.5" cy="197.83" r="0.5"/><circle cx="1154.7" cy="214.52" r="0.5"/><circle cx="1159.14" cy="213.34" r="0.5"/><circle cx="1166.42" cy="192.12" r="0.5"/><circle cx="1158.16" cy="194.67" r="0.5"/><circle cx="1153.62" cy="179.35" r="0.5"/><circle cx="1185.59" cy="197.11" r="0.5"/><circle cx="1173.54" cy="176.24" r="0.5"/><circle cx="1165.8" cy="200.55" r="0.5"/><circle cx="1176.7" cy="203.04" r="0.5"/><circle cx="1159.41" cy="202.54" r="0.5"/><circle cx="1161.18" cy="214.42" r="0.5"/><circle cx="1160.34" cy="221.05" r="0.5"/><circle cx="1158.38" cy="182.45" r="0.5"/><circle cx="1165.38" cy="188.17" r="0.5"/><circle cx="1150.49" cy="198.12" r="0.5"/><circle cx="1142.24" cy="213.41" r="0.5"/><circle cx="1153.47" cy="219.65" r="0.5"/><circle cx="1174.21" cy="217.57" r="0.5"/><circle cx="1176.01" cy="193.96" r="0.5"/><circle cx="1172.1" cy="210.77" r="0.5"/><circle cx="1169.33" cy="205.11" r="0.5"/><circle cx="1172.47" cy="192.59" r="0.5"/><circle cx="1149.37" cy="208.5" r="0.5"/><circle cx="1174.53" cy="183.07" r="0.5"/><circle cx="1165.26" cy="205.76" r="0.5"/><circle cx="1160.75" cy="191.51" r="0.5"/><circle cx="1160.56" cy="157.01" r="0.5"/><circle cx="1169.46" cy="202.37" r="0.5"/><circle cx="1182.85" cy="196.16" r="0.5"/><circle cx="1172.65" cy="188.35" r="0.5"/><circle cx="1173.09" cy="210.14" r="0.5"/><circle cx="1157.92" cy="202.46" r="0.5"/><circle cx="1167.35" cy="202.4" r="0.5"/><circle cx="1160.21" cy="203.3" r="0.5"/><circle cx="1147.57" cy="196.1" r="0.5"/><circle cx="1176.13" cy="212.33" r="0.5"/><circle cx="1163.34" cy="201.34" r="0.5"/><circle cx="1176.12" cy="154.63" r="0.5"/><circle cx="1178.99" cy="189.12" r="0.5"/><circle cx="1170.38" cy="214.49" r="0.5"/><circle cx="1161.5" cy="177.56" r="0.5"/><circle cx="1155.7" cy="189.47" r="0.5"/><circle cx="1200.31" cy="161.95" r="0.5"/><circle cx="1159.56" cy="192.23" r="0.5"/><circle cx="1158.85" cy="184.29" r="0.5"/><circle cx="1154.39" cy="194.41" r="0.5"/><circle cx="1166.22" cy="200.25" r="0.5"/><circle cx="1172.6" cy="192.88" r="0.5"/><circle cx="1168.14" cy="205.57" r="0.5"/><circle cx="1168.11" cy="194.93" r="0.5"/><circle cx="1175.22" cy="173.36" r="0.5"/><circle cx="1163.55" cy="211.47" r="0.5"/><circle cx="1158.39" cy="210.3" r="0.5"/><circle cx="1147.98" cy="188.09" r="0.5"/><circle cx="1147.79" cy="212.43" r="0.5"/><circle cx="1174.09" cy="193.33" r="0.5"/><circle cx="1183.33" cy="202.41" r="0.5"/><circle cx="1158.22" cy="177.5" r="0.5"/><circle cx="1161.21" cy="182.13" r="0.5"/><circle cx="1157.15" cy="205.37" r="0.5"/><circle cx="1165.71" cy="199.69" r="0.5"/><circle cx="1178.52" cy="187.97" r="0.5"/><circle cx="1161.65" cy="203.46" r="0.5"/><circle cx="1164.1" cy="173.9" r="0.5"/><circle cx="1177.26" cy="183.05" r="0.5"/><circle cx="1171.82" cy="204.57" r="0.5"/><circle cx="1173.13" cy="191.54" r="0.5"/><circle cx="1174.9" cy="171.42" r="0.5"/><circle cx="1153.58" cy="209.7" r="0.5"/><circle cx="1165.26" cy="214.42" r="0.5"/><circle cx="1158.78" cy="198.75" r="0.5"/><circle cx="1169.04" cy="208.24" r="0.5"/><circle cx="1172.73" cy="193.44" r="0.5"/><circle cx="1160.48" cy="188.98" r="0.5"/><circle cx="1167.8" cy="212.7" r="0.5"/><circle cx="1167.95" cy="201.63" r="0.5"/><circle cx="1154.53" cy="210.52" r="0.5"/><circle cx="1154.07" cy="200.12" r="0.5"/><circle cx="1175.09" cy="190.07" r="0.5"/><circle cx="1179.09" cy="206.49" r="0.5"/><circle cx="1151.74" cy="189.71" r="0.5"/><circle cx="1157.94" cy="182.94" r="0.5"/><circle cx="1164" cy="201.68" r="0.5"/><circle cx="1176.63" cy="180.49" r="0.5"/><circle cx="1169.6" cy="210.26" r="0.5"/><circle cx="1176.21" cy="196.13" r="0.5"/><circle cx="1173.53" cy="176.21" r="0.5"/><circle cx="1165.13" cy="208.1" r="0.5"/><circle cx="1164.47" cy="193.81" r="0.5"/><circle cx="1158.89" cy="189.97" r="0.5"/><circle cx="1153.54" cy="207.94" r="0.5"/><circle cx="1163.13" cy="191.76" r="0.5"/><circle cx="1174.51" cy="188.74" r="0.5"/><circle cx="1159.55" cy="185.29" r="0.5"/><circle cx="1147.01" cy="212.81" r="0.5"/><circle cx="1162.83" cy="215.22" r="0.5"/><circle cx="1156.92" cy="177.81" r="0.5"/><circle cx="1160.39" cy="200.72" r="0.5"/><circle cx="1156" cy="206.87" r="0.5"/><circle cx="1155.1" cy="206.16" r="0.5"/><circle cx="1166.86" cy="196.7" r="0.5"/><circle cx="1164.35" cy="209.61" r="0.5"/><circle cx="1155.67" cy="206.36" r="0.5"/><circle cx="1155.57" cy="195.02" r="0.5"/><circle cx="1162.12" cy="186.4" r="0.5"/><circle cx="1170.8" cy="214.97" r="0.5"/><circle cx="1159.08" cy="197.79" r="0.5"/><circle cx="1147.35" cy="228.08" r="0.5"/><circle cx="1171.6" cy="172.09" r="0.5"/><circle cx="1168.01" cy="202.74" r="0.5"/><circle cx="1179.03" cy="187.28" r="0.5"/><circle cx="1166.98" cy="184.54" r="0.5"/><circle cx="1163.99" cy="207.59" r="0.5"/><circle cx="1171.81" cy="189.5" r="0.5"/><circle cx="1156.15" cy="203.11" r="0.5"/><circle cx="1171.83" cy="171.63" r="0.5"/><circle cx="1168.69" cy="186.35" r="0.5"/><circle cx="1157.46" cy="221.54" r="0.5"/><circle cx="1169.94" cy="216.1" r="0.5"/><circle cx="1156.82" cy="198.43" r="0.5"/><circle cx="1162.61" cy="197.89" r="0.5"/><circle cx="1158.8" cy="200" r="0.5"/><circle cx="1172.59" cy="180.53" r="0.5"/><circle cx="1170" cy="184.86" r="0.5"/><circle cx="1163.43" cy="184.15" r="0.5"/><circle cx="1167.7" cy="169.77" r="0.5"/><circle cx="1142.16" cy="215.35" r="0.5"/><circle cx="1155.33" cy="208.64" r="0.5"/><circle cx="1166.04" cy="166.46" r="0.5"/><circle cx="1161.64" cy="181.81" r="0.5"/><circle cx="1177.6" cy="178.05" r="0.5"/><circle cx="1174.52" cy="167.82" r="0.5"/><circle cx="1176.18" cy="187.12" r="0.5"/><circle cx="1160.65" cy="201.19" r="0.5"/><circle cx="1153.86" cy="201.64" r="0.5"/><circle cx="1150.91" cy="199.97" r="0.5"/><circle cx="1168.84" cy="183.09" r="0.5"/><circle cx="1158.17" cy="208.56" r="0.5"/><circle cx="1163.33" cy="189.97" r="0.5"/><circle cx="1169.06" cy="179.63" r="0.5"/><circle cx="1181.84" cy="201.47" r="0.5"/><circle cx="1160.5" cy="203.67" r="0.5"/><circle cx="1156.22" cy="186.92" r="0.5"/><circle cx="1167.21" cy="204.48" r="0.5"/><circle cx="1169.54" cy="169.75" r="0.5"/><circle cx="1164.98" cy="187.68" r="0.5"/><circle cx="1151.66" cy="197.52" r="0.5"/><circle cx="1150.46" cy="182.23" r="0.5"/><circle cx="1170.15" cy="187.1" r="0.5"/><circle cx="1164.43" cy="190.37" r="0.5"/><circle cx="1143.24" cy="208.57" r="0.5"/><circle cx="1168.84" cy="195.68" r="0.5"/><circle cx="1158.03" cy="189.74" r="0.5"/><circle cx="1188.02" cy="191.14" r="0.5"/><circle cx="1153.8" cy="198.07" r="0.5"/><circle cx="1175.42" cy="207.47" r="0.5"/><circle cx="1154.97" cy="205.31" r="0.5"/><circle cx="1160.78" cy="196.67" r="0.5"/><circle cx="1165.3" cy="183.85" r="0.5"/><circle cx="1157.4" cy="213.34" r="0.5"/><circle cx="1180.12" cy="202.07" r="0.5"/><circle cx="1186.68" cy="184.18" r="0.5"/><circle cx="1168.19" cy="195.83" r="0.5"/><circle cx="1168" cy="188.03" r="0.5"/><circle cx="1158.29" cy="220.31" r="0.5"/><circle cx="1178.93" cy="197.95" r="0.5"/><circle cx="1168.06" cy="177.5" r="0.5"/><circle cx="1158.61" cy="185.83" r="0.5"/><circle cx="1171.29" cy="177.22" r="0.5"/><circle cx="1138.8" cy="206.31" r="0.5"/><circle cx="1174.64" cy="185.82" r="0.5"/><circle cx="1176.34" cy="216.87" r="0.5"/><circle cx="1173" cy="209.35" r="0.5"/><circle cx="1161.67" cy="206.28" r="0.5"/><circle cx="1176.98" cy="210.9" r="0.5"/><circle cx="1173.34" cy="181.75" r="0.5"/><circle cx="1168.47" cy="189.99" r="0.5"/><circle cx="1155.4" cy="187.22" r="0.5"/><circle cx="1178.42" cy="193.65" r="0.5"/><circle cx="1149.74" cy="200.5" r="0.5"/><circle cx="1147.56" cy="211.92" r="0.5"/><circle cx="1174.58" cy="182.45" r="0.5"/><circle cx="1166.56" cy="219.73" r="0.5"/><circle cx="1167.07" cy="202.55" r="0.5"/><circle cx="1154.04" cy="196.33" r="0.5"/><circle cx="1162.4" cy="191.64" r="0.5"/><circle cx="1166.5" cy="191.85" r="0.5"/><circle cx="1159.97" cy="213.97" r="0.5"/><circle cx="1165.37" cy="203.27" r="0.5"/><circle cx="1174.23" cy="183.9" r="0.5"/><circle cx="1184.03" cy="188.04" r="0.5"/><circle cx="1157.38" cy="197.32" r="0.5"/><circle cx="1165.4" cy="214" r="0.5"/><circle cx="1163.5" cy="210.34" r="0.5"/><circle cx="1167.48" cy="171.23" r="0.5"/><circle cx="1166.48" cy="170.49" r="0.5"/><circle cx="1169.7" cy="184.54" r="0.5"/><circle cx="1153.72" cy="217.1" r="0.5"/><circle cx="1173.42" cy="172.22" r="0.5"/><circle cx="1163.63" cy="216.26" r="0.5"/><circle cx="1162.26" cy="177.28" r="0.5"/><circle cx="1155.14" cy="188.58" r="0.5"/><circle cx="1160.18" cy="218.77" r="0.5"/><circle cx="1181.64" cy="190.08" r="0.5"/><circle cx="1168.08" cy="183.36" r="0.5"/><circle cx="1165.24" cy="175.79" r="0.5"/><circle cx="1162.63" cy="201.66" r="0.5"/><circle cx="1160.07" cy="201.15" r="0.5"/><circle cx="1166.15" cy="210.63" r="0.5"/><circle cx="1183.36" cy="177.82" r="0.5"/><circle cx="1185.13" cy="171.15" r="0.5"/><circle cx="1160.05" cy="178.21" r="0.5"/><circle cx="1154.54" cy="187.14" r="0.5"/><circle cx="1173.74" cy="179.99" r="0.5"/><circle cx="1160.71" cy="195.15" r="0.5"/><circle cx="1159.3" cy="204.46" r="0.5"/><circle cx="1165.24" cy="200.84" r="0.5"/><circle cx="1152.49" cy="212.1" r="0.5"/><circle cx="1159.33" cy="166.19" r="0.5"/><circle cx="1151.58" cy="197.12" r="0.5"/><circle cx="1172.9" cy="192.33" r="0.5"/><circle cx="1156.3" cy="198.02" r="0.5"/><circle cx="1169.9" cy="202.28" r="0.5"/><circle cx="1157.08" cy="205.32" r="0.5"/><circle cx="1163.57" cy="175.62" r="0.5"/><circle cx="1161.16" cy="216.71" r="0.5"/><circle cx="1179.18" cy="179.07" r="0.5"/><circle cx="1172.35" cy="157.58" r="0.5"/><circle cx="1163.63" cy="205.34" r="0.5"/><circle cx="1145.3" cy="226.39" r="0.5"/><circle cx="1188.27" cy="169.91" r="0.5"/><circle cx="1174.57" cy="218.18" r="0.5"/><circle cx="1177.02" cy="174.12" r="0.5"/><circle cx="1166.65" cy="205.5" r="0.5"/><circle cx="1175.4" cy="174.51" r="0.5"/><circle cx="1163.65" cy="208.53" r="0.5"/><circle cx="1155.99" cy="183.25" r="0.5"/><circle cx="1147.56" cy="211.35" r="0.5"/><circle cx="1160.59" cy="179.77" r="0.5"/><circle cx="1164.99" cy="199.48" r="0.5"/><circle cx="1149.71" cy="205.97" r="0.5"/><circle cx="1156.24" cy="206.71" r="0.5"/><circle cx="1171.82" cy="216.03" r="0.5"/><circle cx="1175.74" cy="191.92" r="0.5"/><circle cx="1149.36" cy="206.52" r="0.5"/><circle cx="1148.35" cy="209.78" r="0.5"/><circle cx="1177.39" cy="190.3" r="0.5"/><circle cx="1178.36" cy="182.61" r="0.5"/><circle cx="1146.52" cy="224.33" r="0.5"/><circle cx="1172.44" cy="192.6" r="0.5"/><circle cx="1165.68" cy="199.39" r="0.5"/><circle cx="1161.92" cy="196.1" r="0.5"/><circle cx="1161.43" cy="184.54" r="0.5"/><circle cx="1162.6" cy="205.42" r="0.5"/><circle cx="1166.56" cy="191.66" r="0.5"/><circle cx="1165.75" cy="181.37" r="0.5"/><circle cx="1174.72" cy="195.73" r="0.5"/><circle cx="1156.7" cy="204.09" r="0.5"/><circle cx="1170.54" cy="175.43" r="0.5"/><circle cx="1162.37" cy="182.44" r="0.5"/><circle cx="1150.25" cy="200.39" r="0.5"/><circle cx="1164.15" cy="218.84" r="0.5"/><circle cx="1158.51" cy="194.3" r="0.5"/><circle cx="1172.33" cy="182.53" r="0.5"/><circle cx="1168.27" cy="189.33" r="0.5"/><circle cx="1158.82" cy="178.63" r="0.5"/><circle cx="1151.24" cy="214.98" r="0.5"/><circle cx="1165.4" cy="193.73" r="0.5"/><circle cx="1163.51" cy="206.66" r="0.5"/><circle cx="1165.7" cy="190.57" r="0.5"/><circle cx="1173.25" cy="201.6" r="0.5"/><circle cx="1152.82" cy="194.46" r="0.5"/><circle cx="1164.68" cy="214.7" r="0.5"/><circle cx="1164.77" cy="199.96" r="0.5"/><circle cx="1166.91" cy="189.65" r="0.5"/><circle cx="1158.62" cy="205.42" r="0.5"/><circle cx="1161.74" cy="182.46" r="0.5"/><circle cx="1165.11" cy="195" r="0.5"/><circle cx="1153.75" cy="211.96" r="0.5"/><circle cx="1167.52" cy="189.73" r="0.5"/><circle cx="1168.87" cy="211.86" r="0.5"/><circle cx="1166.82" cy="206.81" r="0.5"/><circle cx="1168.61" cy="187.43" r="0.5"/><circle cx="1192.96" cy="184.1" r="0.5"/><circle cx="1175.35" cy="183.02" r="0.5"/><circle cx="1167.48" cy="191.48" r="0.5"/><circle cx="1161.74" cy="218.08" r="0.5"/><circle cx="1140.77" cy="197.75" r="0.5"/><circle cx="1162.55" cy="192.19" r="0.5"/><circle cx="1161.13" cy="218.98" r="0.5"/><circle cx="1174.62" cy="195.88" r="0.5"/><circle cx="1159.82" cy="199.15" r="0.5"/><circle cx="1174.15" cy="193.96" r="0.5"/><circle cx="1179.24" cy="198.16" r="0.5"/><circle cx="1160.27" cy="198.78" r="0.5"/><circle cx="1154.15" cy="201.29" r="0.5"/><circle cx="1145.58" cy="206.88" r="0.5"/><circle cx="1165.82" cy="201.97" r="0.5"/><circle cx="1175.19" cy="172.23" r="0.5"/><circle cx="1159.94" cy="222" r="0.5"/><circle cx="1165.16" cy="209.39" r="0.5"/><circle cx="1162.08" cy="190.33" r="0.5"/><circle cx="1158.04" cy="198.31" r="0.5"/><circle cx="1163.35" cy="183.02" r="0.5"/><circle cx="1157.96" cy="197.07" r="0.5"/><circle cx="1166.23" cy="206.75" r="0.5"/><circle cx="1170.19" cy="176.42" r="0.5"/><circle cx="1173.33" cy="196.11" r="0.5"/><circle cx="1166.22" cy="181.79" r="0.5"/><circle cx="1171.08" cy="183.38" r="0.5"/><circle cx="1153.26" cy="211.87" r="0.5"/><circle cx="1162.67" cy="210.65" r="0.5"/><circle cx="1177.2" cy="187.59" r="0.5"/><circle cx="1159.14" cy="196.25" r="0.5"/><circle cx="1163.16" cy="199.19" r="0.5"/><circle cx="1162.84" cy="206.09" r="0.5"/><circle cx="1157.36" cy="175.29" r="0.5"/><circle cx="1177.11" cy="185.83" r="0.5"/><circle cx="1189.13" cy="228.41" r="0.5"/><circle cx="1173.1" cy="183.67" r="0.5"/><circle cx="1155.81" cy="217.96" r="0.5"/><circle cx="1169.24" cy="196.09" r="0.5"/><circle cx="1153.41" cy="198.16" r="0.5"/><circle cx="1159.02" cy="211.84" r="0.5"/><circle cx="1161.54" cy="207.04" r="0.5"/><circle cx="1162.85" cy="165.53" r="0.5"/><circle cx="1179.62" cy="206.87" r="0.5"/><circle cx="1181.38" cy="194.89" r="0.5"/><circle cx="1177.98" cy="198.48" r="0.5"/><circle cx="1180.46" cy="184.03" r="0.5"/><circle cx="1167.69" cy="216.56" r="0.5"/><circle cx="1161.64" cy="192.37" r="0.5"/><circle cx="1165.89" cy="180.99" r="0.5"/><circle cx="1157.87" cy="211.87" r="0.5"/><circle cx="1169.13" cy="178.53" r="0.5"/><circle cx="1180.07" cy="190.81" r="0.5"/><circle cx="1163.75" cy="195.03" r="0.5"/><circle cx="1155.52" cy="203.12" r="0.5"/><circle cx="1144.49" cy="187.44" r="0.5"/><circle cx="1180.06" cy="198.99" r="0.5"/><circle cx="1165.71" cy="193.6" r="0.5"/><circle cx="1165.13" cy="207.21" r="0.5"/><circle cx="1177.02" cy="206.41" r="0.5"/><circle cx="1172.51" cy="190.19" r="0.5"/><circle cx="1164.16" cy="188.13" r="0.5"/><circle cx="1143.9" cy="230.36" r="0.5"/><circle cx="1154.41" cy="177.72" r="0.5"/><circle cx="1171.07" cy="190.1" r="0.5"/><circle cx="1170.12" cy="187.24" r="0.5"/><circle cx="1163.51" cy="190.06" r="0.5"/><circle cx="1161.85" cy="173.12" r="0.5"/><circle cx="1149.26" cy="208.02" r="0.5"/><circle cx="1163.83" cy="210.81" r="0.5"/><circle cx="1169.33" cy="202.07" r="0.5"/><circle cx="1152.22" cy="212.36" r="0.5"/><circle cx="1159.54" cy="206.9" r="0.5"/><circle cx="1167.61" cy="193.01" r="0.5"/><circle cx="1169.86" cy="209.39" r="0.5"/><circle cx="1168.54" cy="202.93" r="0.5"/><circle cx="1186.44" cy="175.32" r="0.5"/><circle cx="1169.45" cy="220.3" r="0.5"/><circle cx="1168.67" cy="200.22" r="0.5"/><circle cx="1165.37" cy="193.37" r="0.5"/><circle cx="1169.25" cy="195.67" r="0.5"/><circle cx="1163.06" cy="179.26" r="0.5"/><circle cx="1149.51" cy="217.91" r="0.5"/><circle cx="1147.89" cy="211.29" r="0.5"/><circle cx="1176.8" cy="180.69" r="0.5"/><circle cx="1153.98" cy="204.28" r="0.5"/><circle cx="1156.76" cy="201.95" r="0.5"/><circle cx="1163.37" cy="199.19" r="0.5"/><circle cx="1168.57" cy="181" r="0.5"/><circle cx="1151.95" cy="222.1" r="0.5"/><circle cx="1158.79" cy="196.32" r="0.5"/><circle cx="1154.58" cy="176.85" r="0.5"/><circle cx="1149.91" cy="209.03" r="0.5"/><circle cx="1167.15" cy="169.58" r="0.5"/><circle cx="1164.23" cy="203.31" r="0.5"/><circle cx="1147.33" cy="186.33" r="0.5"/><circle cx="1160.33" cy="192.44" r="0.5"/><circle cx="1173.08" cy="193.47" r="0.5"/><circle cx="1159.55" cy="190.23" r="0.5"/><circle cx="1148.95" cy="231.96" r="0.5"/><circle cx="1169.5" cy="188.94" r="0.5"/><circle cx="1147.06" cy="216.55" r="0.5"/><circle cx="1152.89" cy="221.15" r="0.5"/><circle cx="1160.69" cy="208.12" r="0.5"/><circle cx="1148.47" cy="199.51" r="0.5"/><circle cx="1159.21" cy="217.79" r="0.5"/><circle cx="1164.2" cy="185.55" r="0.5"/><circle cx="1146.81" cy="213.63" r="0.5"/><circle cx="1162.56" cy="188.37" r="0.5"/><circle cx="1164.27" cy="212.12" r="0.5"/><circle cx="1158" cy="189.25" r="0.5"/><circle cx="1165.02" cy="224.09" r="0.5"/><circle cx="1160.58" cy="183.96" r="0.5"/><circle cx="1162.85" cy="191.67" r="0.5"/><circle cx="1153.15" cy="216.79" r="0.5"/><circle cx="1162.02" cy="203.01" r="0.5"/><circle cx="1159.83" cy="210.46" r="0.5"/><circle cx="1169.81" cy="195.52" r="0.5"/><circle cx="1169.84" cy="209.47" r="0.5"/><circle cx="1180.05" cy="205.81" r="0.5"/><circle cx="1166.63" cy="191.24" r="0.5"/><circle cx="1167.63" cy="209.77" r="0.5"/><circle cx="1181.2" cy="170.35" r="0.5"/><circle cx="1163.68" cy="199.04" r="0.5"/><circle cx="1171.48" cy="172.51" r="0.5"/><circle cx="1160.86" cy="192.21" r="0.5"/><circle cx="1171.7" cy="187.44" r="0.5"/><circle cx="1169.08" cy="190.65" r="0.5"/><circle cx="1165.7" cy="200.53" r="0.5"/><circle cx="1150.32" cy="193.34" r="0.5"/><circle cx="1162.88" cy="179.91" r="0.5"/><circle cx="1173.05" cy="183.71" r="0.5"/><circle cx="1168.43" cy="183.91" r="0.5"/><circle cx="1149.37" cy="223.39" r="0.5"/><circle cx="1162.64" cy="220.96" r="0.5"/><circle cx="1153.39" cy="180.46" r="0.5"/><circle cx="1167.8" cy="186.15" r="0.5"/><circle cx="1142.26" cy="228.38" r="0.5"/><circle cx="1163.11" cy="204.88" r="0.5"/><circle cx="1149.24" cy="186.6" r="0.5"/><circle cx="1165.08" cy="179.49" r="0.5"/><circle cx="1160.61" cy="186.7" r="0.5"/><circle cx="1169.08" cy="184.34" r="0.5"/><circle cx="1147.59" cy="206.74" r="0.5"/><circle cx="1172.51" cy="187.85" r="0.5"/><circle cx="1165.51" cy="204.28" r="0.5"/><circle cx="1172.58" cy="174.4" r="0.5"/><circle cx="1165.03" cy="218.68" r="0.5"/><circle cx="1159.33" cy="202.3" r="0.5"/><circle cx="1158.67" cy="218.4" r="0.5"/><circle cx="1161.67" cy="188.21" r="0.5"/><circle cx="1163.69" cy="189.22" r="0.5"/><circle cx="1147.44" cy="198.61" r="0.5"/><circle cx="1172.05" cy="182.05" r="0.5"/><circle cx="1185.23" cy="175.24" r="0.5"/><circle cx="1166.84" cy="203.24" r="0.5"/><circle cx="1159.91" cy="207.8" r="0.5"/><circle cx="1177.94" cy="171.77" r="0.5"/><circle cx="1160.24" cy="184.86" r="0.5"/><circle cx="1161.55" cy="197.84" r="0.5"/><circle cx="1161.84" cy="183.79" r="0.5"/><circle cx="1174.83" cy="211.84" r="0.5"/><circle cx="1184.02" cy="173.62" r="0.5"/><circle cx="1156.16" cy="199.11" r="0.5"/><circle cx="1173.73" cy="203.55" r="0.5"/><circle cx="1176.63" cy="185.5" r="0.5"/><circle cx="1178.28" cy="190.77" r="0.5"/><circle cx="1168.62" cy="200.21" r="0.5"/><circle cx="1145.58" cy="212.51" r="0.5"/><circle cx="1166.88" cy="203.03" r="0.5"/><circle cx="1168.21" cy="202.9" r="0.5"/><circle cx="1175.75" cy="188.59" r="0.5"/><circle cx="1169.07" cy="203.86" r="0.5"/><circle cx="1166.26" cy="199.82" r="0.5"/><circle cx="1153.42" cy="231.31" r="0.5"/><circle cx="1170.36" cy="197.6" r="0.5"/><circle cx="1169.55" cy="198.78" r="0.5"/><circle cx="1164.43" cy="181.72" r="0.5"/><circle cx="1146.01" cy="190.18" r="0.5"/><circle cx="1163.85" cy="192.35" r="0.5"/><circle cx="1175.11" cy="178.85" r="0.5"/><circle cx="1152.57" cy="194.92" r="0.5"/><circle cx="1166.83" cy="183.69" r="0.5"/><circle cx="1162.72" cy="194.5" r="0.5"/><circle cx="1163.61" cy="205.13" r="0.5"/><circle cx="1167.52" cy="175.29" r="0.5"/><circle cx="1169.1" cy="194.81" r="0.5"/><circle cx="1170.11" cy="204.4" r="0.5"/><circle cx="1170.1" cy="186.41" r="0.5"/><circle cx="1159.09" cy="194.52" r="0.5"/><circle cx="1163.1" cy="212.37" r="0.5"/><circle cx="1167.4" cy="201.59" r="0.5"/><circle cx="1153.08" cy="210.14" r="0.5"/><circle cx="1185.7" cy="172.54" r="0.5"/><circle cx="1173.85" cy="196.46" r="0.5"/><circle cx="1176.51" cy="190.61" r="0.5"/><circle cx="1145.71" cy="192.22" r="0.5"/><circle cx="1162" cy="200.72" r="0.5"/><circle cx="1173.33" cy="200.38" r="0.5"/><circle cx="1162.18" cy="205.18" r="0.5"/><circle cx="1164.78" cy="215.85" r="0.5"/><circle cx="1168.19" cy="216.96" r="0.5"/><circle cx="1159.4" cy="179.19" r="0.5"/><circle cx="1183.38" cy="191.52" r="0.5"/><circle cx="1170.07" cy="200.36" r="0.5"/><circle cx="1167.89" cy="196.3" r="0.5"/><circle cx="1183.76" cy="188.42" r="0.5"/><circle cx="1172.53" cy="153.15" r="0.5"/><circle cx="1157.86" cy="206.88" r="0.5"/><circle cx="1162.66" cy="187.41" r="0.5"/><circle cx="1165.31" cy="170.8" r="0.5"/><circle cx="1155.89" cy="219.75" r="0.5"/><circle cx="1156.39" cy="222.37" r="0.5"/><circle cx="1151.26" cy="189.87" r="0.5"/><circle cx="1163.88" cy="204.71" r="0.5"/><circle cx="1178.62" cy="182.95" r="0.5"/><circle cx="1161.19" cy="201.88" r="0.5"/><circle cx="1173.63" cy="216.74" r="0.5"/><circle cx="1168.53" cy="203.7" r="0.5"/><circle cx="1164.93" cy="176.34" r="0.5"/><circle cx="1176.26" cy="189.81" r="0.5"/><circle cx="1180.39" cy="177.25" r="0.5"/><circle cx="1186.74" cy="172.22" r="0.5"/><circle cx="1165.61" cy="205.3" r="0.5"/><circle cx="1141.94" cy="204.01" r="0.5"/><circle cx="1178.99" cy="168.85" r="0.5"/><circle cx="1165.14" cy="199.91" r="0.5"/><circle cx="1159.04" cy="177.95" r="0.5"/><circle cx="1174.91" cy="179.11" r="0.5"/><circle cx="1175.13" cy="191.61" r="0.5"/><circle cx="1161.31" cy="188.34" r="0.5"/><circle cx="1170.2" cy="214.02" r="0.5"/><circle cx="1164.36" cy="187.93" r="0.5"/><circle cx="1165.12" cy="206.6" r="0.5"/><circle cx="1180.39" cy="176.13" r="0.5"/><circle cx="1161.99" cy="194.61" r="0.5"/><circle cx="1158.77" cy="152.85" r="0.5"/><circle cx="1158.1" cy="202.74" r="0.5"/><circle cx="1158.56" cy="210.51" r="0.5"/><circle cx="1176.45" cy="175.58" r="0.5"/><circle cx="1142.9" cy="212.83" r="0.5"/><circle cx="1168.69" cy="200.42" r="0.5"/><circle cx="1164.17" cy="179.51" r="0.5"/><circle cx="1164.13" cy="183.69" r="0.5"/><circle cx="1154.71" cy="226.07" r="0.5"/><circle cx="1171.92" cy="202.47" r="0.5"/><circle cx="1157.79" cy="214.73" r="0.5"/><circle cx="1160.37" cy="191.42" r="0.5"/><circle cx="1159.63" cy="216.9" r="0.5"/><circle cx="1175.48" cy="202.08" r="0.5"/><circle cx="1165.94" cy="211.79" r="0.5"/><circle cx="1158.12" cy="229.66" r="0.5"/><circle cx="1161.15" cy="206.19" r="0.5"/><circle cx="1170.09" cy="190.31" r="0.5"/><circle cx="1162.75" cy="211.57" r="0.5"/><circle cx="1168.41" cy="187.74" r="0.5"/><circle cx="1159.04" cy="187.84" r="0.5"/><circle cx="1163.8" cy="196.72" r="0.5"/><circle cx="1150.73" cy="215" r="0.5"/><circle cx="1168.4" cy="184.52" r="0.5"/><circle cx="1155.22" cy="189.98" r="0.5"/><circle cx="1165.52" cy="180.24" r="0.5"/><circle cx="1152.58" cy="195.45" r="0.5"/><circle cx="1165.53" cy="189.3" r="0.5"/><circle cx="1163.52" cy="214.34" r="0.5"/><circle cx="1162.86" cy="193.72" r="0.5"/><circle cx="1168.22" cy="178.54" r="0.5"/><circle cx="1175.25" cy="213.36" r="0.5"/><circle cx="1174.23" cy="197.69" r="0.5"/><circle cx="1158.27" cy="177.26" r="0.5"/><circle cx="1163.26" cy="199" r="0.5"/><circle cx="1162.66" cy="204.64" r="0.5"/><circle cx="1168.22" cy="176.09" r="0.5"/><circle cx="1163.58" cy="195.14" r="0.5"/><circle cx="1160.92" cy="192.28" r="0.5"/><circle cx="1158.49" cy="179.29" r="0.5"/><circle cx="1149.42" cy="203.6" r="0.5"/><circle cx="1172.13" cy="195.13" r="0.5"/><circle cx="1179.96" cy="185.43" r="0.5"/><circle cx="1155.82" cy="212.91" r="0.5"/><circle cx="1169.47" cy="182.19" r="0.5"/><circle cx="1173.86" cy="189.02" r="0.5"/><circle cx="1159.54" cy="194" r="0.5"/><circle cx="1172.49" cy="206.63" r="0.5"/><circle cx="1162.08" cy="190.6" r="0.5"/><circle cx="1168.01" cy="208.44" r="0.5"/><circle cx="1161.1" cy="213.28" r="0.5"/><circle cx="1179.5" cy="164.36" r="0.5"/><circle cx="1143.78" cy="203.7" r="0.5"/><circle cx="1161.45" cy="178.97" r="0.5"/><circle cx="1180.5" cy="197.6" r="0.5"/><circle cx="1166.48" cy="187.91" r="0.5"/><circle cx="1170.62" cy="200.15" r="0.5"/><circle cx="1158.49" cy="202.7" r="0.5"/><circle cx="1180.98" cy="186.09" r="0.5"/><circle cx="1170.45" cy="205.62" r="0.5"/><circle cx="1155.42" cy="185.47" r="0.5"/><circle cx="1166.43" cy="192.83" r="0.5"/><circle cx="1165.05" cy="197.22" r="0.5"/><circle cx="1175.42" cy="170.86" r="0.5"/><circle cx="1181.17" cy="192.8" r="0.5"/><circle cx="1149.33" cy="195.41" r="0.5"/><circle cx="1145.23" cy="207.49" r="0.5"/><circle cx="1182.98" cy="186.97" r="0.5"/><circle cx="1176.3" cy="203.94" r="0.5"/><circle cx="1167.89" cy="203.29" r="0.5"/><circle cx="1162.66" cy="184.54" r="0.5"/><circle cx="1169.87" cy="200.11" r="0.5"/><circle cx="1155" cy="214.24" r="0.5"/><circle cx="1152.71" cy="203.78" r="0.5"/><circle cx="1161.32" cy="182.81" r="0.5"/><circle cx="1175.62" cy="178" r="0.5"/><circle cx="1149.8" cy="199.78" r="0.5"/><circle cx="1171.94" cy="185.98" r="0.5"/><circle cx="1161.16" cy="212.73" r="0.5"/><circle cx="1174.67" cy="205.7" r="0.5"/><circle cx="1162.23" cy="183.96" r="0.5"/><circle cx="1175.41" cy="201.76" r="0.5"/><circle cx="1169.54" cy="175.83" r="0.5"/><circle cx="1163.33" cy="220.42" r="0.5"/><circle cx="1175.62" cy="213.39" r="0.5"/><circle cx="1153.06" cy="211.22" r="0.5"/><circle cx="1177.43" cy="172.82" r="0.5"/><circle cx="1181.61" cy="183.94" r="0.5"/><circle cx="1145.34" cy="220.8" r="0.5"/><circle cx="1172.97" cy="186.83" r="0.5"/><circle cx="1152.93" cy="198.99" r="0.5"/><circle cx="1171.56" cy="195.74" r="0.5"/><circle cx="1160.23" cy="181.24" r="0.5"/><circle cx="1169.03" cy="207.34" r="0.5"/><circle cx="1174.43" cy="182.41" r="0.5"/><circle cx="1167.98" cy="204.98" r="0.5"/><circle cx="1148.41" cy="192.45" r="0.5"/><circle cx="1138.67" cy="210.16" r="0.5"/><circle cx="1173.14" cy="196.64" r="0.5"/><circle cx="1171.08" cy="188.88" r="0.5"/><circle cx="1162.83" cy="212.01" r="0.5"/><circle cx="1152.07" cy="208.3" r="0.5"/><circle cx="1172.64" cy="187.57" r="0.5"/><circle cx="1154.86" cy="213.44" r="0.5"/><circle cx="1159.75" cy="199.8" r="0.5"/><circle cx="1155.68" cy="204.01" r="0.5"/><circle cx="1170.93" cy="203.69" r="0.5"/><circle cx="1173.33" cy="176.04" r="0.5"/><circle cx="1172.6" cy="191.33" r="0.5"/><circle cx="1165.86" cy="208.61" r="0.5"/><circle cx="1155.25" cy="187.91" r="0.5"/><circle cx="1167.56" cy="192.08" r="0.5"/><circle cx="1152.69" cy="198.99" r="0.5"/><circle cx="1152.34" cy="205.8" r="0.5"/><circle cx="1164.15" cy="200.66" r="0.5"/><circle cx="1163.41" cy="177.7" r="0.5"/><circle cx="1151.48" cy="219.11" r="0.5"/><circle cx="1138.28" cy="217.89" r="0.5"/><circle cx="1172.78" cy="180.24" r="0.5"/><circle cx="1165.63" cy="168.04" r="0.5"/><circle cx="1165.35" cy="202.84" r="0.5"/><circle cx="1174.7" cy="178.89" r="0.5"/><circle cx="1153.87" cy="194.58" r="0.5"/><circle cx="1154.74" cy="181.54" r="0.5"/><circle cx="1170.73" cy="186.48" r="0.5"/><circle cx="1167.86" cy="189.58" r="0.5"/><circle cx="1187.34" cy="173.08" r="0.5"/><circle cx="1167.63" cy="168.61" r="0.5"/><circle cx="1159.92" cy="182.43" r="0.5"/><circle cx="1166.5" cy="193.77" r="0.5"/><circle cx="1171.95" cy="192.7" r="0.5"/><circle cx="1170.98" cy="184.96" r="0.5"/><circle cx="1162.33" cy="181.51" r="0.5"/><circle cx="1181.34" cy="191.05" r="0.5"/><circle cx="1165.91" cy="210.87" r="0.5"/><circle cx="1166.73" cy="205.47" r="0.5"/><circle cx="1165.42" cy="211.67" r="0.5"/><circle cx="1169.64" cy="205.62" r="0.5"/><circle cx="1166.97" cy="192.02" r="0.5"/><circle cx="1162.87" cy="184.75" r="0.5"/><circle cx="1158.29" cy="206.53" r="0.5"/><circle cx="1165.24" cy="190.94" r="0.5"/><circle cx="1156.21" cy="193.4" r="0.5"/><circle cx="1170.27" cy="185.96" r="0.5"/><circle cx="1162.72" cy="203.27" r="0.5"/><circle cx="1170.29" cy="184.7" r="0.5"/><circle cx="1176.69" cy="190.5" r="0.5"/><circle cx="1170.65" cy="182.55" r="0.5"/><circle cx="1152.23" cy="232.87" r="0.5"/><circle cx="1151.7" cy="217.29" r="0.5"/><circle cx="1170.79" cy="202.21" r="0.5"/><circle cx="1163.73" cy="188.18" r="0.5"/><circle cx="1168.35" cy="200.08" r="0.5"/><circle cx="1169.36" cy="223.42" r="0.5"/><circle cx="1151.03" cy="204.33" r="0.5"/><circle cx="1173.78" cy="218.85" r="0.5"/><circle cx="1157.26" cy="211.41" r="0.5"/><circle cx="1162.51" cy="219.59" r="0.5"/><circle cx="1158.2" cy="200.27" r="0.5"/><circle cx="1162.09" cy="206.2" r="0.5"/><circle cx="1176.26" cy="188.17" r="0.5"/><circle cx="1158.34" cy="187.18" r="0.5"/><circle cx="1153.84" cy="188.18" r="0.5"/><circle cx="1158.66" cy="210.13" r="0.5"/><circle cx="1162.22" cy="194.51" r="0.5"/><circle cx="1148.14" cy="201.37" r="0.5"/><circle cx="1159.24" cy="205.09" r="0.5"/><circle cx="1159.58" cy="206.13" r="0.5"/><circle cx="1158.19" cy="199.63" r="0.5"/><circle cx="1154.63" cy="190.45" r="0.5"/><circle cx="1148.46" cy="204.07" r="0.5"/><circle cx="1179.89" cy="171.11" r="0.5"/><circle cx="1147.01" cy="183.6" r="0.5"/><circle cx="1172.57" cy="210.57" r="0.5"/><circle cx="1158.61" cy="191.53" r="0.5"/><circle cx="1184.71" cy="194.01" r="0.5"/><circle cx="1162.79" cy="200.63" r="0.5"/><circle cx="1159.16" cy="202.02" r="0.5"/><circle cx="1138.68" cy="211.85" r="0.5"/><circle cx="1157.85" cy="187.91" r="0.5"/><circle cx="1153.13" cy="204.81" r="0.5"/><circle cx="1153.64" cy="202.62" r="0.5"/><circle cx="1162.4" cy="214.47" r="0.5"/><circle cx="1161.74" cy="205.4" r="0.5"/><circle cx="1167.95" cy="165.07" r="0.5"/><circle cx="1169.89" cy="172.24" r="0.5"/><circle cx="1164.22" cy="187.67" r="0.5"/><circle cx="1192.49" cy="188.45" r="0.5"/><circle cx="1169.6" cy="193.57" r="0.5"/><circle cx="1177.77" cy="203.1" r="0.5"/><circle cx="1144.15" cy="227.11" r="0.5"/><circle cx="1164.27" cy="196.05" r="0.5"/><circle cx="1181" cy="175.52" r="0.5"/><circle cx="1168.2" cy="211.63" r="0.5"/><circle cx="1138.56" cy="198.52" r="0.5"/><circle cx="1152.92" cy="193.34" r="0.5"/><circle cx="1161.21" cy="194.05" r="0.5"/><circle cx="1160.34" cy="208.33" r="0.5"/><circle cx="1164.87" cy="193.89" r="0.5"/><circle cx="1166.49" cy="192.47" r="0.5"/><circle cx="1164.09" cy="207.13" r="0.5"/><circle cx="1153.46" cy="209.81" r="0.5"/><circle cx="1160.42" cy="181.56" r="0.5"/><circle cx="1171.41" cy="192.45" r="0.5"/><circle cx="1164.44" cy="187.31" r="0.5"/><circle cx="1172.44" cy="184.25" r="0.5"/><circle cx="1153.04" cy="192.92" r="0.5"/><circle cx="1165.46" cy="211.14" r="0.5"/><circle cx="1163.65" cy="201.55" r="0.5"/><circle cx="1166.78" cy="164.49" r="0.5"/><circle cx="1152.23" cy="197.04" r="0.5"/><circle cx="1161.55" cy="213.69" r="0.5"/><circle cx="1153.38" cy="184.17" r="0.5"/><circle cx="1177.06" cy="178.37" r="0.5"/><circle cx="1170.46" cy="189.6" r="0.5"/><circle cx="1166.09" cy="192.46" r="0.5"/><circle cx="1168.57" cy="201.08" r="0.5"/><circle cx="1171.79" cy="161.99" r="0.5"/><circle cx="1170.62" cy="191.21" r="0.5"/><circle cx="1156.77" cy="183.83" r="0.5"/><circle cx="1164.16" cy="197.8" r="0.5"/><circle cx="1167.41" cy="202.39" r="0.5"/><circle cx="1174.02" cy="175.15" r="0.5"/><circle cx="1159.72" cy="191.85" r="0.5"/><circle cx="1160.97" cy="189.72" r="0.5"/><circle cx="1167.44" cy="177.34" r="0.5"/><circle cx="1169.65" cy="206.21" r="0.5"/><circle cx="1184.55" cy="195.12" r="0.5"/><circle cx="1159.82" cy="189.18" r="0.5"/><circle cx="1161.86" cy="180.85" r="0.5"/><circle cx="1157.47" cy="200.58" r="0.5"/><circle cx="1146.6" cy="198.14" r="0.5"/><circle cx="1169.2" cy="187.25" r="0.5"/><circle cx="1165.46" cy="182.44" r="0.5"/><circle cx="1164.09" cy="178.3" r="0.5"/><circle cx="1183.75" cy="178.88" r="0.5"/><circle cx="1164.82" cy="232.34" r="0.5"/><circle cx="1171.43" cy="182.44" r="0.5"/><circle cx="1159.92" cy="194.27" r="0.5"/><circle cx="1187.13" cy="173.59" r="0.5"/><circle cx="1155.98" cy="213.02" r="0.5"/><circle cx="1171.7" cy="190.09" r="0.5"/><circle cx="1157.82" cy="213.23" r="0.5"/><circle cx="1161.47" cy="180.29" r="0.5"/><circle cx="1154.4" cy="187.38" r="0.5"/><circle cx="1170.61" cy="197.46" r="0.5"/><circle cx="1173.4" cy="184.16" r="0.5"/><circle cx="1169.98" cy="190.39" r="0.5"/><circle cx="1186.75" cy="164.16" r="0.5"/><circle cx="1183.38" cy="196.66" r="0.5"/><circle cx="1163.41" cy="214.57" r="0.5"/><circle cx="1164.48" cy="184.65" r="0.5"/><circle cx="1146.24" cy="187.03" r="0.5"/><circle cx="1161.12" cy="173.85" r="0.5"/><circle cx="1159.84" cy="200.02" r="0.5"/><circle cx="1187.6" cy="168.17" r="0.5"/><circle cx="1169.11" cy="172.86" r="0.5"/><circle cx="1174.69" cy="208.1" r="0.5"/><circle cx="1159.09" cy="203.63" r="0.5"/><circle cx="1175.99" cy="209.65" r="0.5"/><circle cx="1161.59" cy="203.73" r="0.5"/><circle cx="1156.9" cy="197.82" r="0.5"/><circle cx="1151.82" cy="220.2" r="0.5"/><circle cx="1176.43" cy="205.3" r="0.5"/><circle cx="1186.58" cy="201.85" r="0.5"/><circle cx="1176.17" cy="174.83" r="0.5"/><circle cx="1177.06" cy="191.64" r="0.5"/><circle cx="1170.09" cy="174.66" r="0.5"/><circle cx="1162.59" cy="184.11" r="0.5"/><circle cx="1169.04" cy="183.72" r="0.5"/><circle cx="1162.94" cy="201.26" r="0.5"/><circle cx="1158.38" cy="218.07" r="0.5"/><circle cx="1147.07" cy="211.75" r="0.5"/><circle cx="1157.58" cy="212.32" r="0.5"/><circle cx="1188.43" cy="170.53" r="0.5"/><circle cx="1158.09" cy="182.93" r="0.5"/><circle cx="1171.52" cy="188.87" r="0.5"/><circle cx="1171.7" cy="195.3" r="0.5"/><circle cx="1176.71" cy="190.7" r="0.5"/><circle cx="1161.92" cy="197.12" r="0.5"/><circle cx="1155.37" cy="209.62" r="0.5"/><circle cx="1154.23" cy="216.08" r="0.5"/><circle cx="1148.28" cy="201.61" r="0.5"/><circle cx="1146.7" cy="216.22" r="0.5"/><circle cx="1174.89" cy="193.79" r="0.5"/><circle cx="1180.65" cy="181.56" r="0.5"/><circle cx="1171.56" cy="201.2" r="0.5"/><circle cx="1171.41" cy="192.89" r="0.5"/><circle cx="1152.66" cy="196.72" r="0.5"/><circle cx="1159.26" cy="194.06" r="0.5"/><circle cx="1153.65" cy="208.5" r="0.5"/><circle cx="1173.24" cy="199.02" r="0.5"/><circle cx="1171.18" cy="189.55" r="0.5"/><circle cx="1171.58" cy="190.23" r="0.5"/><circle cx="1170.2" cy="179.09" r="0.5"/><circle cx="1173.16" cy="174.61" r="0.5"/><circle cx="1145.68" cy="182.8" r="0.5"/><circle cx="1165.15" cy="166.57" r="0.5"/><circle cx="1171.85" cy="197.39" r="0.5"/><circle cx="1169.31" cy="183.11" r="0.5"/><circle cx="1173.97" cy="194.66" r="0.5"/><circle cx="1171.2" cy="209.06" r="0.5"/><circle cx="1160.83" cy="180.69" r="0.5"/><circle cx="1172.19" cy="182.86" r="0.5"/><circle cx="1183.71" cy="183.37" r="0.5"/><circle cx="1173.38" cy="184.37" r="0.5"/><circle cx="1152.2" cy="206.86" r="0.5"/><circle cx="1165.43" cy="205.38" r="0.5"/><circle cx="1167.47" cy="169.06" r="0.5"/><circle cx="1145.91" cy="226.68" r="0.5"/><circle cx="1168.75" cy="199.86" r="0.5"/><circle cx="1182.31" cy="195.71" r="0.5"/><circle cx="1150.36" cy="186.01" r="0.5"/><circle cx="1162" cy="205.63" r="0.5"/><circle cx="1145.16" cy="221.74" r="0.5"/><circle cx="1156.33" cy="195.35" r="0.5"/><circle cx="1174.37" cy="199.17" r="0.5"/><circle cx="1146.1" cy="224.33" r="0.5"/><circle cx="1166.45" cy="167.82" r="0.5"/><circle cx="1148.35" cy="209.39" r="0.5"/><circle cx="1161.73" cy="172.17" r="0.5"/><circle cx="1174.44" cy="183.16" r="0.5"/><circle cx="1173.85" cy="197.56" r="0.5"/><circle cx="1183.67" cy="191.42" r="0.5"/><circle cx="1166.65" cy="197.28" r="0.5"/><circle cx="1169.91" cy="208.52" r="0.5"/><circle cx="1166.12" cy="198.87" r="0.5"/><circle cx="1155.08" cy="197.52" r="0.5"/><circle cx="1159.36" cy="198.82" r="0.5"/><circle cx="1171.48" cy="177.26" r="0.5"/><circle cx="1170.12" cy="187.25" r="0.5"/><circle cx="1145.97" cy="212.59" r="0.5"/><circle cx="1166.93" cy="200.41" r="0.5"/><circle cx="1172.62" cy="181.41" r="0.5"/><circle cx="1167.79" cy="173.03" r="0.5"/><circle cx="1144.94" cy="171.96" r="0.5"/><circle cx="1161.14" cy="196.75" r="0.5"/><circle cx="1168.76" cy="199.38" r="0.5"/><circle cx="1165.28" cy="213" r="0.5"/><circle cx="1153.2" cy="195.42" r="0.5"/><circle cx="1165.76" cy="196.25" r="0.5"/><circle cx="1180.82" cy="185.85" r="0.5"/><circle cx="1145.89" cy="226.13" r="0.5"/><circle cx="1172.81" cy="211.7" r="0.5"/><circle cx="1160.69" cy="193.72" r="0.5"/><circle cx="1152.65" cy="210.61" r="0.5"/><circle cx="1164.21" cy="197.3" r="0.5"/><circle cx="1171.64" cy="196.69" r="0.5"/><circle cx="1169.35" cy="191.37" r="0.5"/><circle cx="1169.64" cy="195.69" r="0.5"/><circle cx="1163.9" cy="191.57" r="0.5"/><circle cx="1137.69" cy="189.32" r="0.5"/><circle cx="1154.83" cy="197.48" r="0.5"/><circle cx="1158.3" cy="199.18" r="0.5"/><circle cx="1152.59" cy="211.69" r="0.5"/><circle cx="1150.76" cy="208.74" r="0.5"/><circle cx="1174.29" cy="210.61" r="0.5"/><circle cx="1142.71" cy="197.75" r="0.5"/></g><ellipse cx="1164.2" cy="195.5" rx="31" ry="17" transform="rotate(-63 1164.2 195.5)" fill="url(#gBlob)"/><g stroke="#888" stroke-width="1" fill="none"><path d="M1117.3,150.3 L1207.1,150.3 L1207.1,233.5"/></g><rect x="1176.8" y="144.6" width="2.4" height="2.4" fill="none" stroke="#999" stroke-width="0.7"/><g stroke="#111" stroke-width="1.8" fill="none"><path d="M1117.3,151 L1117.3,236.8 L1209,236.8"/></g><path d="M1207,234.2 L1211.5,236.8 L1207,239.2" fill="none" stroke="#111" stroke-width="1.2"/><g stroke="#111" stroke-width="1.3"><line x1="1112" y1="156.2" x2="1117" y2="156.2"/><line x1="1112" y1="158.3" x2="1117" y2="158.3"/><line x1="1112" y1="187.6" x2="1117" y2="187.6"/><line x1="1112" y1="217.4" x2="1117" y2="217.4"/></g><g fill="#111"><circle cx="1127.7" cy="239.6" r="1.5"/><circle cx="1151.3" cy="239.6" r="1.5"/><circle cx="1177.8" cy="239.6" r="1.5"/><circle cx="1203" cy="239.6" r="1.5"/></g><path d="M1152.5,432.6 L1152.5,445.2 A45.1,19.8 0 0 0 1242.7,445.2 L1242.7,432.6 Z" fill="#e6eff6" stroke="#5e8fb1" stroke-width="1.3"/><ellipse cx="1197.6" cy="432.6" rx="45.1" ry="18.9" fill="#eaf2f8" stroke="#5e8fb1" stroke-width="1.3"/><path d="M1155,439 A42.6,12.6 0 0 0 1240.2,439 L1240.2,443 A42.6,13 0 0 1 1155,443 Z" fill="#c6dbea"/><ellipse cx="1197.6" cy="438.9" rx="42.6" ry="12.6" fill="#dde9f3" stroke="#5e8fb1" stroke-width="1.3"/></svg>
<div class="t b" style="left:13.2px;width:238px;top:50px">Project Consultation</div>
<div class="t b" style="left:272px;width:239px;top:50px">Dendritic Cell<br>Generation</div>
<div class="t b" style="left:531px;width:239px;top:50px">Antigen Preparation<br>&amp; Loading</div>
<div class="t b" style="left:789.2px;width:239px;top:50px">DC Maturation &amp;<br>Activation</div>
<div class="t b" style="left:1049px;width:238px;top:50px">Quality Control &amp;<br>Characterization</div>

<div class="t" style="left:45.5px;top:286px">Discuss and<br>determine project<br>requirements to<br>form a tailored<br>experimental plan</div>
<div class="t" style="left:292px;top:312px">Isolate precursor<br>cells</div>
<div class="t" style="left:291.5px;top:466px">Differentiated into<br>immature DCs</div>
<div class="t" style="left:546.5px;top:245.5px">Synthesize<br>peptides/recombinant<br>proteins</div>
<div class="t c" style="left:533.3px;width:229px;top:469px">Pulsed onto DCs</div>
<div class="t c" style="left:792.8px;width:239px;top:228.7px">Immature DC</div>
<div class="t" style="left:898px;top:279.5px">Cytokines<br>TLR</div>
<div class="t c" style="left:789.5px;width:235px;top:463.5px">Mature DC</div>
<div class="t c" style="left:1048.5px;width:238px;top:274.5px">Flow cytometry</div>
<div class="t" style="left:1066px;top:485.5px">Viability/sterility tests<br>Functional assays</div>
</body></html>
